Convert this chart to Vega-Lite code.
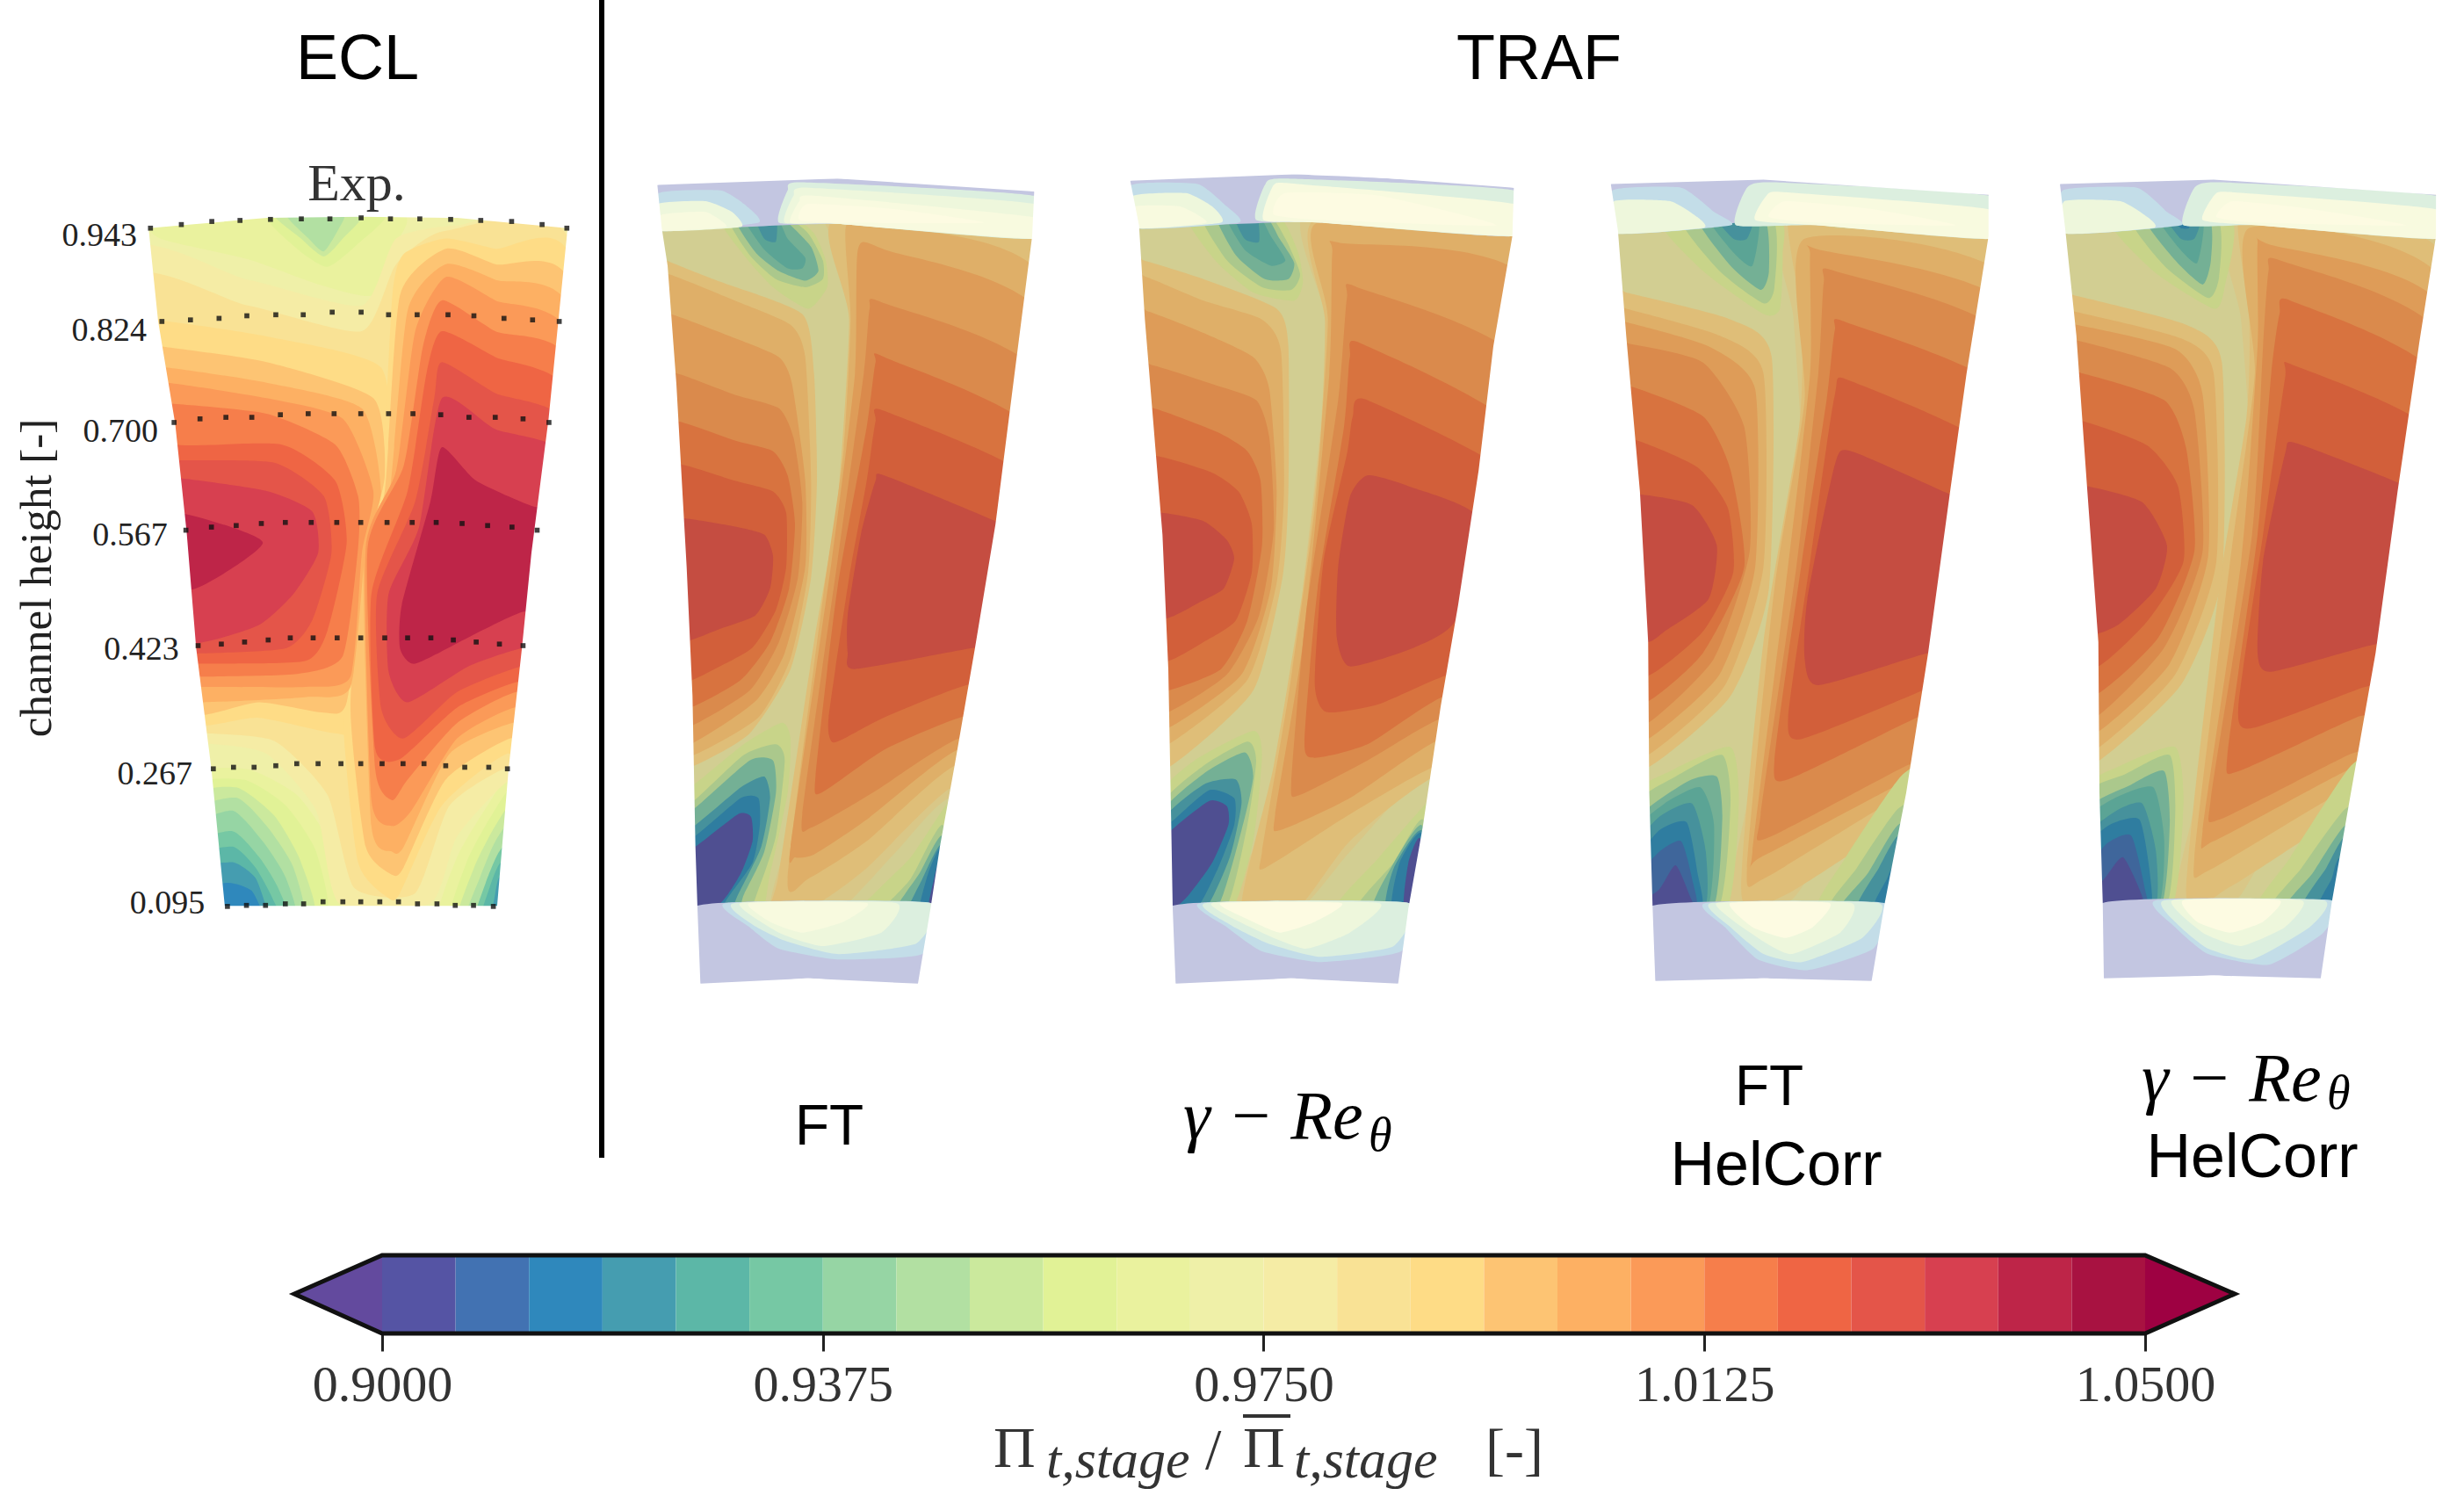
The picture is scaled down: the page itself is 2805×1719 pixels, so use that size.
{"$schema":"https://vega.github.io/schema/vega-lite/v6.json","width":2805,"height":1719,"padding":0,"autosize":{"type":"none"},"background":"white","config":{"view":{"stroke":null}},"resolve":{"scale":{"x":"independent","y":"independent","color":"independent"},"axis":{"x":"independent","y":"independent"}},
"datasets":{
"ecl":[
{"v":0.972,"x":300,"y":115},{"v":0.972,"x":1500,"y":115},{"v":0.972,"x":1520,"y":135},{"v":0.972,"x":1520,"y":1495},{"v":0.972,"x":1500,"y":1515},{"v":0.972,"x":300,"y":1515},{"v":0.972,"x":280,"y":1495},{"v":0.972,"x":280,"y":135},
{"v":0.966,"x":420,"y":150},{"v":0.966,"x":420,"y":190},{"v":0.966,"x":650,"y":230},{"v":0.966,"x":840,"y":280},{"v":0.966,"x":980,"y":300},{"v":0.966,"x":1040,"y":200},{"v":0.966,"x":1040,"y":140},
{"v":0.96,"x":700,"y":140},{"v":0.96,"x":780,"y":210},{"v":0.96,"x":860,"y":245},{"v":0.96,"x":940,"y":200},{"v":0.96,"x":1010,"y":140},
{"v":0.953,"x":720,"y":140},{"v":0.953,"x":790,"y":190},{"v":0.953,"x":850,"y":225},{"v":0.953,"x":900,"y":190},{"v":0.953,"x":950,"y":140},
{"v":0.946,"x":750,"y":140},{"v":0.946,"x":810,"y":190},{"v":0.946,"x":850,"y":215},{"v":0.946,"x":890,"y":170},{"v":0.946,"x":900,"y":140},
{"v":0.967,"x":500,"y":1240},{"v":0.967,"x":650,"y":1220},{"v":0.967,"x":780,"y":1270},{"v":0.967,"x":860,"y":1360},{"v":0.967,"x":880,"y":1520},{"v":0.967,"x":500,"y":1520},
{"v":0.961,"x":500,"y":1260},{"v":0.961,"x":640,"y":1240},{"v":0.961,"x":750,"y":1290},{"v":0.961,"x":830,"y":1380},{"v":0.961,"x":850,"y":1520},{"v":0.961,"x":500,"y":1520},
{"v":0.954,"x":500,"y":1280},{"v":0.954,"x":620,"y":1255},{"v":0.954,"x":720,"y":1310},{"v":0.954,"x":790,"y":1400},{"v":0.954,"x":820,"y":1520},{"v":0.954,"x":500,"y":1520},
{"v":0.947,"x":500,"y":1310},{"v":0.947,"x":620,"y":1275},{"v":0.947,"x":700,"y":1330},{"v":0.947,"x":770,"y":1410},{"v":0.947,"x":790,"y":1520},{"v":0.947,"x":500,"y":1520},
{"v":0.941,"x":500,"y":1340},{"v":0.941,"x":610,"y":1300},{"v":0.941,"x":690,"y":1360},{"v":0.941,"x":750,"y":1430},{"v":0.941,"x":770,"y":1520},{"v":0.941,"x":500,"y":1520},
{"v":0.934,"x":500,"y":1370},{"v":0.934,"x":610,"y":1340},{"v":0.934,"x":680,"y":1390},{"v":0.934,"x":730,"y":1450},{"v":0.934,"x":750,"y":1520},{"v":0.934,"x":500,"y":1520},
{"v":0.928,"x":500,"y":1395},{"v":0.928,"x":610,"y":1370},{"v":0.928,"x":670,"y":1410},{"v":0.928,"x":715,"y":1470},{"v":0.928,"x":730,"y":1520},{"v":0.928,"x":500,"y":1520},
{"v":0.922,"x":500,"y":1420},{"v":0.922,"x":610,"y":1400},{"v":0.922,"x":670,"y":1430},{"v":0.922,"x":700,"y":1490},{"v":0.922,"x":710,"y":1520},{"v":0.922,"x":500,"y":1520},
{"v":0.916,"x":500,"y":1455},{"v":0.916,"x":600,"y":1440},{"v":0.916,"x":660,"y":1455},{"v":0.916,"x":690,"y":1500},{"v":0.916,"x":690,"y":1520},{"v":0.916,"x":500,"y":1520},
{"v":0.968,"x":1350,"y":1230},{"v":0.968,"x":1280,"y":1290},{"v":0.968,"x":1200,"y":1390},{"v":0.968,"x":1150,"y":1520},{"v":0.968,"x":1350,"y":1520},
{"v":0.962,"x":1350,"y":1260},{"v":0.962,"x":1290,"y":1310},{"v":0.962,"x":1225,"y":1400},{"v":0.962,"x":1180,"y":1520},{"v":0.962,"x":1350,"y":1520},
{"v":0.955,"x":1350,"y":1290},{"v":0.955,"x":1300,"y":1330},{"v":0.955,"x":1245,"y":1410},{"v":0.955,"x":1200,"y":1520},{"v":0.955,"x":1350,"y":1520},
{"v":0.948,"x":1350,"y":1320},{"v":0.948,"x":1300,"y":1360},{"v":0.948,"x":1260,"y":1430},{"v":0.948,"x":1220,"y":1520},{"v":0.948,"x":1350,"y":1520},
{"v":0.935,"x":1350,"y":1360},{"v":0.935,"x":1310,"y":1380},{"v":0.935,"x":1275,"y":1440},{"v":0.935,"x":1245,"y":1520},{"v":0.935,"x":1350,"y":1520},
{"v":0.929,"x":1350,"y":1390},{"v":0.929,"x":1310,"y":1405},{"v":0.929,"x":1285,"y":1450},{"v":0.929,"x":1260,"y":1520},{"v":0.929,"x":1350,"y":1520},
{"v":0.923,"x":1350,"y":1430},{"v":0.923,"x":1310,"y":1430},{"v":0.923,"x":1295,"y":1480},{"v":0.923,"x":1275,"y":1520},{"v":0.923,"x":1350,"y":1520},
{"v":0.978,"x":300,"y":235},{"v":0.978,"x":650,"y":270},{"v":0.978,"x":950,"y":320},{"v":0.978,"x":1040,"y":190},{"v":0.978,"x":1200,"y":165},{"v":0.978,"x":1500,"y":180},{"v":0.978,"x":1500,"y":1230},{"v":0.978,"x":1340,"y":1240},{"v":0.978,"x":1200,"y":1350},{"v":0.978,"x":1130,"y":1480},{"v":0.978,"x":890,"y":1480},{"v":0.978,"x":830,"y":1300},{"v":0.978,"x":700,"y":1190},{"v":0.978,"x":540,"y":1170},{"v":0.978,"x":300,"y":1170},
{"v":0.984,"x":300,"y":285},{"v":0.984,"x":650,"y":320},{"v":0.984,"x":950,"y":370},{"v":0.984,"x":1040,"y":240},{"v":0.984,"x":1170,"y":175},{"v":0.984,"x":1500,"y":205},{"v":0.984,"x":1500,"y":1210},{"v":0.984,"x":1335,"y":1215},{"v":0.984,"x":1180,"y":1290},{"v":0.984,"x":1090,"y":1460},{"v":0.984,"x":930,"y":1450},{"v":0.984,"x":860,"y":1270},{"v":0.984,"x":720,"y":1165},{"v":0.984,"x":530,"y":1150},{"v":0.984,"x":300,"y":1150},
{"v":0.989,"x":300,"y":340},{"v":0.989,"x":430,"y":350},{"v":0.989,"x":700,"y":380},{"v":0.989,"x":1000,"y":440},{"v":0.989,"x":1020,"y":650},{"v":0.989,"x":960,"y":800},{"v":0.989,"x":930,"y":1130},{"v":0.989,"x":880,"y":1150},{"v":0.989,"x":680,"y":1120},{"v":0.989,"x":540,"y":1135},{"v":0.989,"x":300,"y":1130},
{"v":0.99,"x":1170,"y":190},{"v":0.99,"x":1300,"y":210},{"v":0.99,"x":1500,"y":240},{"v":0.99,"x":1500,"y":1190},{"v":0.99,"x":1330,"y":1190},{"v":0.99,"x":1160,"y":1290},{"v":0.99,"x":1050,"y":1460},{"v":0.99,"x":1020,"y":1470},{"v":0.99,"x":940,"y":1400},{"v":0.99,"x":900,"y":1100},{"v":0.99,"x":950,"y":780},{"v":0.99,"x":1000,"y":690},{"v":0.99,"x":1030,"y":300},{"v":0.99,"x":1060,"y":220},
{"v":0.995,"x":300,"y":390},{"v":0.995,"x":430,"y":400},{"v":0.995,"x":700,"y":430},{"v":0.995,"x":980,"y":500},{"v":0.995,"x":1010,"y":650},{"v":0.995,"x":965,"y":790},{"v":0.995,"x":910,"y":1090},{"v":0.995,"x":850,"y":1110},{"v":0.995,"x":680,"y":1090},{"v":0.995,"x":530,"y":1115},{"v":0.995,"x":300,"y":1110},
{"v":0.996,"x":1170,"y":210},{"v":0.996,"x":1300,"y":240},{"v":0.996,"x":1500,"y":290},{"v":0.996,"x":1500,"y":1160},{"v":0.996,"x":1340,"y":1160},{"v":0.996,"x":1170,"y":1240},{"v":0.996,"x":1060,"y":1410},{"v":0.996,"x":1030,"y":1425},{"v":0.996,"x":960,"y":1370},{"v":0.996,"x":920,"y":1100},{"v":0.996,"x":955,"y":800},{"v":0.996,"x":1010,"y":680},{"v":0.996,"x":1050,"y":300},
{"v":1.001,"x":300,"y":440},{"v":1.001,"x":435,"y":440},{"v":1.001,"x":700,"y":470},{"v":1.001,"x":950,"y":520},{"v":1.001,"x":1000,"y":680},{"v":1.001,"x":960,"y":790},{"v":1.001,"x":920,"y":1060},{"v":1.001,"x":800,"y":1080},{"v":1.001,"x":530,"y":1090},{"v":1.001,"x":300,"y":1090},
{"v":1.002,"x":1170,"y":240},{"v":1.002,"x":1300,"y":270},{"v":1.002,"x":1500,"y":340},{"v":1.002,"x":1500,"y":1130},{"v":1.002,"x":1345,"y":1130},{"v":1.002,"x":1180,"y":1190},{"v":1.002,"x":1060,"y":1370},{"v":1.002,"x":1030,"y":1380},{"v":1.002,"x":975,"y":1330},{"v":1.002,"x":955,"y":790},{"v":1.002,"x":1020,"y":700},{"v":1.002,"x":1070,"y":330},
{"v":1.007,"x":300,"y":470},{"v":1.007,"x":440,"y":470},{"v":1.007,"x":700,"y":500},{"v":1.007,"x":900,"y":540},{"v":1.007,"x":980,"y":680},{"v":1.007,"x":950,"y":800},{"v":1.007,"x":920,"y":1040},{"v":1.007,"x":800,"y":1060},{"v":1.007,"x":530,"y":1060},{"v":1.007,"x":300,"y":1060},
{"v":1.008,"x":1170,"y":265},{"v":1.008,"x":1300,"y":310},{"v":1.008,"x":1500,"y":390},{"v":1.008,"x":1500,"y":1100},{"v":1.008,"x":1350,"y":1100},{"v":1.008,"x":1200,"y":1160},{"v":1.008,"x":1080,"y":1300},{"v":1.008,"x":1030,"y":1330},{"v":1.008,"x":975,"y":1280},{"v":1.008,"x":960,"y":790},{"v":1.008,"x":1040,"y":640},{"v":1.008,"x":1090,"y":370},
{"v":1.014,"x":300,"y":510},{"v":1.014,"x":440,"y":510},{"v":1.014,"x":700,"y":530},{"v":1.014,"x":880,"y":590},{"v":1.014,"x":940,"y":690},{"v":1.014,"x":940,"y":790},{"v":1.014,"x":900,"y":1000},{"v":1.014,"x":780,"y":1035},{"v":1.014,"x":525,"y":1040},{"v":1.014,"x":300,"y":1040},
{"v":1.015,"x":1160,"y":310},{"v":1.015,"x":1300,"y":370},{"v":1.015,"x":1500,"y":440},{"v":1.015,"x":1500,"y":1080},{"v":1.015,"x":1355,"y":1070},{"v":1.015,"x":1200,"y":1130},{"v":1.015,"x":1070,"y":1240},{"v":1.015,"x":1030,"y":1280},{"v":1.015,"x":985,"y":1220},{"v":1.015,"x":965,"y":790},{"v":1.015,"x":1060,"y":630},{"v":1.015,"x":1110,"y":400},
{"v":1.02,"x":300,"y":540},{"v":1.02,"x":460,"y":590},{"v":1.02,"x":740,"y":590},{"v":1.02,"x":880,"y":660},{"v":1.02,"x":910,"y":780},{"v":1.02,"x":860,"y":950},{"v":1.02,"x":800,"y":1010},{"v":1.02,"x":520,"y":1015},{"v":1.02,"x":300,"y":1015},
{"v":1.021,"x":1160,"y":370},{"v":1.021,"x":1300,"y":420},{"v":1.021,"x":1500,"y":500},{"v":1.021,"x":1500,"y":1050},{"v":1.021,"x":1360,"y":1050},{"v":1.021,"x":1200,"y":1100},{"v":1.021,"x":1050,"y":1200},{"v":1.021,"x":985,"y":1180},{"v":1.021,"x":975,"y":880},{"v":1.021,"x":1070,"y":680},{"v":1.021,"x":1120,"y":450},
{"v":1.026,"x":300,"y":610},{"v":1.026,"x":465,"y":620},{"v":1.026,"x":720,"y":625},{"v":1.026,"x":850,"y":690},{"v":1.026,"x":870,"y":800},{"v":1.026,"x":820,"y":930},{"v":1.026,"x":750,"y":985},{"v":1.026,"x":520,"y":995},{"v":1.026,"x":300,"y":995},
{"v":1.027,"x":1160,"y":430},{"v":1.027,"x":1300,"y":490},{"v":1.027,"x":1500,"y":560},{"v":1.027,"x":1500,"y":1020},{"v":1.027,"x":1370,"y":1020},{"v":1.027,"x":1200,"y":1070},{"v":1.027,"x":1060,"y":1160},{"v":1.027,"x":1000,"y":1100},{"v":1.027,"x":990,"y":880},{"v":1.027,"x":1090,"y":700},{"v":1.027,"x":1140,"y":500},
{"v":1.032,"x":300,"y":650},{"v":1.032,"x":470,"y":655},{"v":1.032,"x":700,"y":680},{"v":1.032,"x":820,"y":720},{"v":1.032,"x":835,"y":800},{"v":1.032,"x":770,"y":880},{"v":1.032,"x":680,"y":940},{"v":1.032,"x":520,"y":975},{"v":1.032,"x":300,"y":975},
{"v":1.033,"x":1160,"y":500},{"v":1.033,"x":1300,"y":560},{"v":1.033,"x":1500,"y":620},{"v":1.033,"x":1500,"y":980},{"v":1.033,"x":1370,"y":985},{"v":1.033,"x":1230,"y":1020},{"v":1.033,"x":1070,"y":1090},{"v":1.033,"x":1020,"y":1030},{"v":1.033,"x":1020,"y":880},{"v":1.033,"x":1100,"y":750},
{"v":1.039,"x":300,"y":720},{"v":1.039,"x":490,"y":725},{"v":1.039,"x":690,"y":780},{"v":1.039,"x":510,"y":870},{"v":1.039,"x":300,"y":870},
{"v":1.04,"x":1160,"y":595},{"v":1.04,"x":1250,"y":660},{"v":1.04,"x":1400,"y":710},{"v":1.04,"x":1500,"y":720},{"v":1.04,"x":1500,"y":900},{"v":1.04,"x":1370,"y":915},{"v":1.04,"x":1240,"y":960},{"v":1.04,"x":1090,"y":1015},{"v":1.04,"x":1050,"y":985},{"v":1.04,"x":1055,"y":900},{"v":1.04,"x":1130,"y":700}
],
"eclMask":[{"x":100,"y":-150},{"x":1565,"y":-150},{"x":1565,"y":1700},{"x":100,"y":1700},{"x":100,"y":-150},{"x":390,"y":170},{"x":415,"y":350},{"x":460,"y":550},{"x":490,"y":760},{"x":515,"y":985},{"x":555,"y":1220},{"x":590,"y":1485},{"x":1305,"y":1485},{"x":1335,"y":1220},{"x":1370,"y":985},{"x":1395,"y":800},{"x":1440,"y":540},{"x":1490,"y":170},{"x":1200,"y":150},{"x":950,"y":148},{"x":700,"y":150},{"x":390,"y":170},{"x":100,"y":-150}],
"eclDots":[{"x":395,"y":170},{"x":476,"y":163},{"x":556,"y":157},{"x":630,"y":155},{"x":710,"y":153},{"x":791,"y":152},{"x":866,"y":152},{"x":948,"y":150},{"x":1025,"y":152},{"x":1102,"y":152},{"x":1183,"y":153},{"x":1262,"y":155},{"x":1343,"y":157},{"x":1423,"y":163},{"x":1488,"y":170},
{"x":425,"y":351},{"x":500,"y":348},{"x":575,"y":345},{"x":648,"y":340},{"x":724,"y":338},{"x":796,"y":338},{"x":872,"y":333},{"x":948,"y":333},{"x":1020,"y":338},{"x":1095,"y":338},{"x":1176,"y":338},{"x":1244,"y":340},{"x":1323,"y":345},{"x":1398,"y":348},{"x":1468,"y":351},
{"x":457,"y":547},{"x":525,"y":540},{"x":593,"y":537},{"x":661,"y":537},{"x":736,"y":532},{"x":809,"y":530},{"x":877,"y":530},{"x":947,"y":530},{"x":1020,"y":530},{"x":1084,"y":530},{"x":1157,"y":532},{"x":1231,"y":537},{"x":1300,"y":537},{"x":1373,"y":540},{"x":1441,"y":547},
{"x":488,"y":756},{"x":555,"y":750},{"x":620,"y":747},{"x":686,"y":743},{"x":749,"y":741},{"x":817,"y":741},{"x":884,"y":741},{"x":947,"y":741},{"x":1016,"y":741},{"x":1082,"y":741},{"x":1145,"y":741},{"x":1213,"y":743},{"x":1280,"y":747},{"x":1344,"y":750},{"x":1410,"y":756},
{"x":520,"y":980},{"x":581,"y":977},{"x":642,"y":973},{"x":704,"y":969},{"x":762,"y":965},{"x":822,"y":965},{"x":885,"y":965},{"x":947,"y":965},{"x":1010,"y":965},{"x":1070,"y":965},{"x":1131,"y":965},{"x":1190,"y":969},{"x":1250,"y":973},{"x":1311,"y":977},{"x":1373,"y":980},
{"x":560,"y":1219},{"x":613,"y":1216},{"x":667,"y":1216},{"x":724,"y":1213},{"x":779,"y":1209},{"x":835,"y":1209},{"x":895,"y":1209},{"x":947,"y":1209},{"x":1003,"y":1209},{"x":1058,"y":1209},{"x":1113,"y":1209},{"x":1170,"y":1213},{"x":1220,"y":1216},{"x":1283,"y":1216},{"x":1332,"y":1219},
{"x":597,"y":1486},{"x":647,"y":1484},{"x":697,"y":1484},{"x":749,"y":1481},{"x":797,"y":1481},{"x":848,"y":1477},{"x":900,"y":1477},{"x":947,"y":1477},{"x":997,"y":1477},{"x":1046,"y":1477},{"x":1096,"y":1481},{"x":1147,"y":1481},{"x":1195,"y":1484},{"x":1243,"y":1484},{"x":1295,"y":1486}],
"eclTicks":[{"t":"0.943","x":360,"y":205},{"t":"0.824","x":385,"y":388},{"t":"0.700","x":415,"y":585},{"t":"0.567","x":440,"y":785},{"t":"0.423","x":470,"y":1007},{"t":"0.267","x":505,"y":1250},{"t":"0.095","x":538,"y":1500}],
"ft":[
{"v":0.98,"x":70,"y":80},{"v":0.98,"x":1400,"y":80},{"v":0.98,"x":1420,"y":100},{"v":0.98,"x":1420,"y":1400},{"v":0.98,"x":1400,"y":1420},{"v":0.98,"x":70,"y":1420},{"v":0.98,"x":50,"y":1400},{"v":0.98,"x":50,"y":100},
{"v":0.99,"x":680,"y":100},{"v":0.99,"x":1420,"y":130},{"v":0.99,"x":1420,"y":1150},{"v":0.99,"x":1080,"y":1190},{"v":0.99,"x":900,"y":1290},{"v":0.99,"x":700,"y":1400},{"v":0.99,"x":470,"y":1410},{"v":0.99,"x":520,"y":1280},{"v":0.99,"x":580,"y":1100},{"v":0.99,"x":640,"y":900},{"v":0.99,"x":700,"y":700},{"v":0.99,"x":740,"y":500},{"v":0.99,"x":745,"y":300},{"v":0.99,"x":715,"y":180},
{"v":0.996,"x":690,"y":115},{"v":0.996,"x":1420,"y":170},{"v":0.996,"x":1420,"y":1130},{"v":0.996,"x":1090,"y":1170},{"v":0.996,"x":800,"y":1320},{"v":0.996,"x":620,"y":1390},{"v":0.996,"x":470,"y":1400},{"v":0.996,"x":500,"y":1330},{"v":0.996,"x":620,"y":900},{"v":0.996,"x":700,"y":640},{"v":0.996,"x":740,"y":300},
{"v":0.997,"x":30,"y":165},{"v":0.997,"x":115,"y":190},{"v":0.997,"x":300,"y":230},{"v":0.997,"x":580,"y":290},{"v":0.997,"x":620,"y":400},{"v":0.997,"x":630,"y":600},{"v":0.997,"x":610,"y":780},{"v":0.997,"x":540,"y":950},{"v":0.997,"x":400,"y":1070},{"v":0.997,"x":210,"y":1130},{"v":0.997,"x":30,"y":1150},
{"v":1.003,"x":730,"y":125},{"v":1.003,"x":870,"y":125},{"v":1.003,"x":1420,"y":240},{"v":1.003,"x":1420,"y":1110},{"v":1.003,"x":1100,"y":1130},{"v":1.003,"x":800,"y":1270},{"v":1.003,"x":600,"y":1340},{"v":1.003,"x":530,"y":1340},{"v":1.003,"x":650,"y":820},{"v":1.003,"x":720,"y":550},{"v":1.003,"x":745,"y":300},
{"v":1.004,"x":30,"y":215},{"v":1.004,"x":120,"y":215},{"v":1.004,"x":350,"y":265},{"v":1.004,"x":540,"y":310},{"v":1.004,"x":590,"y":370},{"v":1.004,"x":610,"y":600},{"v":1.004,"x":600,"y":770},{"v":1.004,"x":540,"y":930},{"v":1.004,"x":430,"y":1040},{"v":1.004,"x":210,"y":1110},{"v":1.004,"x":30,"y":1130},
{"v":1.009,"x":770,"y":170},{"v":1.009,"x":860,"y":170},{"v":1.009,"x":1420,"y":310},{"v":1.009,"x":1420,"y":1080},{"v":1.009,"x":1110,"y":1100},{"v":1.009,"x":800,"y":1230},{"v":1.009,"x":620,"y":1295},{"v":1.009,"x":555,"y":1300},{"v":1.009,"x":540,"y":1280},{"v":1.009,"x":680,"y":750},{"v":1.009,"x":760,"y":400},
{"v":1.01,"x":30,"y":290},{"v":1.01,"x":130,"y":290},{"v":1.01,"x":350,"y":335},{"v":1.01,"x":500,"y":370},{"v":1.01,"x":545,"y":420},{"v":1.01,"x":590,"y":600},{"v":1.01,"x":590,"y":760},{"v":1.01,"x":520,"y":920},{"v":1.01,"x":420,"y":1010},{"v":1.01,"x":215,"y":1085},{"v":1.01,"x":30,"y":1110},
{"v":1.016,"x":810,"y":280},{"v":1.016,"x":850,"y":268},{"v":1.016,"x":1420,"y":420},{"v":1.016,"x":1420,"y":1050},{"v":1.016,"x":1110,"y":1080},{"v":1.016,"x":820,"y":1180},{"v":1.016,"x":610,"y":1245},{"v":1.016,"x":580,"y":1220},{"v":1.016,"x":700,"y":750},{"v":1.016,"x":790,"y":400},
{"v":1.017,"x":30,"y":400},{"v":1.017,"x":150,"y":400},{"v":1.017,"x":350,"y":440},{"v":1.017,"x":500,"y":465},{"v":1.017,"x":550,"y":520},{"v":1.017,"x":580,"y":640},{"v":1.017,"x":565,"y":780},{"v":1.017,"x":500,"y":900},{"v":1.017,"x":400,"y":990},{"v":1.017,"x":205,"y":1055},{"v":1.017,"x":30,"y":1080},
{"v":1.022,"x":830,"y":380},{"v":1.022,"x":860,"y":370},{"v":1.022,"x":1420,"y":530},{"v":1.022,"x":1420,"y":1010},{"v":1.022,"x":1120,"y":1040},{"v":1.022,"x":860,"y":1100},{"v":1.022,"x":645,"y":1180},{"v":1.022,"x":625,"y":1150},{"v":1.022,"x":700,"y":800},{"v":1.022,"x":800,"y":500},
{"v":1.023,"x":30,"y":490},{"v":1.023,"x":160,"y":490},{"v":1.023,"x":350,"y":525},{"v":1.023,"x":480,"y":545},{"v":1.023,"x":530,"y":590},{"v":1.023,"x":555,"y":680},{"v":1.023,"x":535,"y":800},{"v":1.023,"x":470,"y":900},{"v":1.023,"x":370,"y":970},{"v":1.023,"x":205,"y":1020},{"v":1.023,"x":30,"y":1040},
{"v":1.028,"x":830,"y":490},{"v":1.028,"x":860,"y":470},{"v":1.028,"x":1420,"y":620},{"v":1.028,"x":1420,"y":960},{"v":1.028,"x":1140,"y":980},{"v":1.028,"x":860,"y":1040},{"v":1.028,"x":720,"y":1080},{"v":1.028,"x":680,"y":1085},{"v":1.028,"x":670,"y":1040},{"v":1.028,"x":740,"y":780},{"v":1.028,"x":800,"y":600},
{"v":1.029,"x":30,"y":570},{"v":1.029,"x":170,"y":570},{"v":1.029,"x":350,"y":600},{"v":1.029,"x":480,"y":620},{"v":1.029,"x":525,"y":660},{"v":1.029,"x":525,"y":760},{"v":1.029,"x":490,"y":840},{"v":1.029,"x":410,"y":910},{"v":1.029,"x":280,"y":950},{"v":1.029,"x":205,"y":970},{"v":1.029,"x":30,"y":1000},
{"v":1.034,"x":830,"y":600},{"v":1.034,"x":860,"y":590},{"v":1.034,"x":1240,"y":675},{"v":1.034,"x":1400,"y":720},{"v":1.034,"x":1400,"y":900},{"v":1.034,"x":1170,"y":910},{"v":1.034,"x":760,"y":950},{"v":1.034,"x":735,"y":920},{"v":1.034,"x":735,"y":850},{"v":1.034,"x":780,"y":700},
{"v":1.035,"x":30,"y":670},{"v":1.035,"x":180,"y":670},{"v":1.035,"x":350,"y":685},{"v":1.035,"x":450,"y":700},{"v":1.035,"x":480,"y":740},{"v":1.035,"x":470,"y":800},{"v":1.035,"x":420,"y":850},{"v":1.035,"x":300,"y":875},{"v":1.035,"x":205,"y":895},{"v":1.035,"x":30,"y":920},
{"v":0.959,"x":300,"y":110},{"v":0.959,"x":380,"y":180},{"v":0.959,"x":480,"y":240},{"v":0.959,"x":600,"y":280},{"v":0.959,"x":665,"y":240},{"v":0.959,"x":660,"y":190},{"v":0.959,"x":620,"y":140},{"v":0.959,"x":540,"y":110},
{"v":0.947,"x":330,"y":110},{"v":0.947,"x":400,"y":180},{"v":0.947,"x":490,"y":225},{"v":0.947,"x":590,"y":240},{"v":0.947,"x":650,"y":225},{"v":0.947,"x":650,"y":190},{"v":0.947,"x":600,"y":140},{"v":0.947,"x":520,"y":110},
{"v":0.934,"x":350,"y":110},{"v":0.934,"x":420,"y":175},{"v":0.934,"x":500,"y":210},{"v":0.934,"x":590,"y":228},{"v":0.934,"x":635,"y":210},{"v":0.934,"x":610,"y":165},{"v":0.934,"x":540,"y":125},{"v":0.934,"x":500,"y":110},
{"v":0.927,"x":380,"y":110},{"v":0.927,"x":450,"y":170},{"v":0.927,"x":530,"y":205},{"v":0.927,"x":580,"y":205},{"v":0.927,"x":590,"y":185},{"v":0.927,"x":530,"y":150},{"v":0.927,"x":490,"y":110},
{"v":0.921,"x":420,"y":110},{"v":0.921,"x":450,"y":150},{"v":0.921,"x":490,"y":155},{"v":0.921,"x":490,"y":110},
{"v":0.96,"x":100,"y":1200},{"v":0.96,"x":210,"y":1165},{"v":0.96,"x":380,"y":1090},{"v":0.96,"x":510,"y":1050},{"v":0.96,"x":540,"y":1080},{"v":0.96,"x":530,"y":1180},{"v":0.96,"x":470,"y":1330},{"v":0.96,"x":420,"y":1420},{"v":0.96,"x":100,"y":1420},
{"v":0.948,"x":100,"y":1230},{"v":0.948,"x":210,"y":1195},{"v":0.948,"x":380,"y":1110},{"v":0.948,"x":490,"y":1090},{"v":0.948,"x":520,"y":1120},{"v":0.948,"x":490,"y":1260},{"v":0.948,"x":430,"y":1360},{"v":0.948,"x":370,"y":1420},{"v":0.948,"x":100,"y":1420},
{"v":0.935,"x":100,"y":1245},{"v":0.935,"x":210,"y":1210},{"v":0.935,"x":400,"y":1120},{"v":0.935,"x":480,"y":1120},{"v":0.935,"x":490,"y":1180},{"v":0.935,"x":450,"y":1290},{"v":0.935,"x":380,"y":1370},{"v":0.935,"x":340,"y":1420},{"v":0.935,"x":100,"y":1420},
{"v":0.922,"x":100,"y":1270},{"v":0.922,"x":215,"y":1240},{"v":0.922,"x":370,"y":1170},{"v":0.922,"x":450,"y":1150},{"v":0.922,"x":470,"y":1190},{"v":0.922,"x":440,"y":1280},{"v":0.922,"x":360,"y":1370},{"v":0.922,"x":310,"y":1420},{"v":0.922,"x":100,"y":1420},
{"v":0.915,"x":100,"y":1290},{"v":0.915,"x":215,"y":1260},{"v":0.915,"x":370,"y":1190},{"v":0.915,"x":430,"y":1190},{"v":0.915,"x":435,"y":1240},{"v":0.915,"x":410,"y":1310},{"v":0.915,"x":320,"y":1380},{"v":0.915,"x":290,"y":1420},{"v":0.915,"x":100,"y":1420},
{"v":0.903,"x":100,"y":1310},{"v":0.903,"x":215,"y":1280},{"v":0.903,"x":360,"y":1220},{"v":0.903,"x":405,"y":1225},{"v":0.903,"x":410,"y":1270},{"v":0.903,"x":370,"y":1330},{"v":0.903,"x":290,"y":1390},{"v":0.903,"x":100,"y":1420},
{"v":0.961,"x":750,"y":1420},{"v":0.961,"x":950,"y":1300},{"v":0.961,"x":1075,"y":1200},{"v":0.961,"x":1120,"y":1200},{"v":0.961,"x":1100,"y":1420},
{"v":0.949,"x":830,"y":1420},{"v":0.949,"x":950,"y":1340},{"v":0.949,"x":1060,"y":1240},{"v":0.949,"x":1100,"y":1420},
{"v":0.936,"x":880,"y":1420},{"v":0.936,"x":980,"y":1330},{"v":0.936,"x":1060,"y":1260},{"v":0.936,"x":1100,"y":1420},
{"v":0.923,"x":930,"y":1420},{"v":0.923,"x":990,"y":1340},{"v":0.923,"x":1060,"y":1275},{"v":0.923,"x":1100,"y":1420},
{"v":0.916,"x":975,"y":1420},{"v":0.916,"x":1010,"y":1330},{"v":0.916,"x":1060,"y":1280},{"v":0.916,"x":1100,"y":1420},
{"v":0.904,"x":1005,"y":1420},{"v":0.904,"x":1030,"y":1340},{"v":0.904,"x":1060,"y":1290},{"v":0.904,"x":1100,"y":1420}
],
"ftCap":[
{"v":0.895,"x":85,"y":50},{"v":0.895,"x":700,"y":38},{"v":0.895,"x":1370,"y":62},{"v":0.895,"x":1365,"y":145},{"v":0.895,"x":700,"y":122},{"v":0.895,"x":100,"y":130},
{"v":0.911,"x":90,"y":65},{"v":0.911,"x":300,"y":60},{"v":0.911,"x":380,"y":85},{"v":0.911,"x":430,"y":120},{"v":0.911,"x":95,"y":135},
{"v":0.951,"x":90,"y":85},{"v":0.951,"x":250,"y":80},{"v":0.951,"x":340,"y":100},{"v":0.951,"x":370,"y":128},{"v":0.951,"x":95,"y":135},
{"v":0.966,"x":100,"y":105},{"v":0.966,"x":250,"y":100},{"v":0.966,"x":320,"y":128},{"v":0.966,"x":100,"y":135},
{"v":0.931,"x":500,"y":120},{"v":0.931,"x":530,"y":60},{"v":0.931,"x":580,"y":45},{"v":0.931,"x":1370,"y":70},{"v":0.931,"x":1372,"y":150},{"v":0.931,"x":700,"y":122},
{"v":0.952,"x":520,"y":120},{"v":0.952,"x":550,"y":70},{"v":0.952,"x":600,"y":55},{"v":0.952,"x":1370,"y":85},{"v":0.952,"x":1372,"y":150},{"v":0.952,"x":700,"y":122},
{"v":0.967,"x":540,"y":120},{"v":0.967,"x":570,"y":80},{"v":0.967,"x":620,"y":70},{"v":0.967,"x":1370,"y":110},{"v":0.967,"x":1372,"y":150},{"v":0.967,"x":700,"y":122},
{"v":0.981,"x":570,"y":115},{"v":0.981,"x":600,"y":85},{"v":0.981,"x":900,"y":95},{"v":0.981,"x":1200,"y":120},{"v":0.981,"x":700,"y":120},
{"v":0.896,"x":222,"y":1390},{"v":0.896,"x":1018,"y":1390},{"v":0.896,"x":975,"y":1535},{"v":0.896,"x":600,"y":1525},{"v":0.896,"x":232,"y":1535},
{"v":0.912,"x":320,"y":1385},{"v":0.912,"x":1018,"y":1385},{"v":0.912,"x":990,"y":1480},{"v":0.912,"x":700,"y":1490},{"v":0.912,"x":500,"y":1470},{"v":0.912,"x":400,"y":1430},
{"v":0.932,"x":350,"y":1385},{"v":0.932,"x":1018,"y":1385},{"v":0.932,"x":970,"y":1460},{"v":0.932,"x":700,"y":1480},{"v":0.932,"x":520,"y":1455},{"v":0.932,"x":410,"y":1425},
{"v":0.953,"x":370,"y":1385},{"v":0.953,"x":900,"y":1385},{"v":0.953,"x":850,"y":1440},{"v":0.953,"x":650,"y":1465},{"v":0.953,"x":500,"y":1440},
{"v":0.968,"x":400,"y":1385},{"v":0.968,"x":800,"y":1385},{"v":0.968,"x":720,"y":1420},{"v":0.968,"x":580,"y":1440},{"v":0.968,"x":470,"y":1420}
],
"ftMask":[{"x":0,"y":0},{"x":1500,"y":0},{"x":1500,"y":1568},{"x":0,"y":1568},{"x":0,"y":0},{"x":85,"y":50},{"x":100,"y":130},{"x":120,"y":200},{"x":150,"y":420},{"x":185,"y":760},{"x":205,"y":1000},{"x":215,"y":1280},{"x":222,"y":1395},{"x":232,"y":1535},{"x":600,"y":1525},{"x":975,"y":1535},{"x":1018,"y":1395},{"x":1050,"y":1280},{"x":1100,"y":1130},{"x":1170,"y":910},{"x":1240,"y":680},{"x":1305,"y":400},{"x":1365,"y":145},{"x":1372,"y":62},{"x":700,"y":38},{"x":85,"y":50},{"x":0,"y":0}],
"gr":[
{"v":0.98,"x":35,"y":70},{"v":0.98,"x":1400,"y":70},{"v":0.98,"x":1420,"y":90},{"v":0.98,"x":1420,"y":1400},{"v":0.98,"x":1400,"y":1420},{"v":0.98,"x":35,"y":1420},{"v":0.98,"x":15,"y":1400},{"v":0.98,"x":15,"y":90},
{"v":0.99,"x":650,"y":100},{"v":0.99,"x":1420,"y":130},{"v":0.99,"x":1420,"y":1150},{"v":0.99,"x":1090,"y":1130},{"v":0.99,"x":800,"y":1290},{"v":0.99,"x":620,"y":1400},{"v":0.99,"x":380,"y":1400},{"v":0.99,"x":500,"y":1250},{"v":0.99,"x":590,"y":1050},{"v":0.99,"x":640,"y":800},{"v":0.99,"x":700,"y":500},{"v":0.99,"x":720,"y":300},
{"v":0.996,"x":680,"y":115},{"v":0.996,"x":1420,"y":140},{"v":0.996,"x":1420,"y":1120},{"v":0.996,"x":1090,"y":1150},{"v":0.996,"x":800,"y":1270},{"v":0.996,"x":620,"y":1395},{"v":0.996,"x":430,"y":1395},{"v":0.996,"x":540,"y":1130},{"v":0.996,"x":640,"y":800},{"v":0.996,"x":700,"y":520},{"v":0.996,"x":715,"y":300},
{"v":0.997,"x":20,"y":180},{"v":0.997,"x":95,"y":190},{"v":0.997,"x":300,"y":225},{"v":0.997,"x":550,"y":280},{"v":0.997,"x":590,"y":350},{"v":0.997,"x":590,"y":620},{"v":0.997,"x":570,"y":780},{"v":0.997,"x":470,"y":990},{"v":0.997,"x":190,"y":1130},{"v":0.997,"x":20,"y":1140},
{"v":1.003,"x":690,"y":120},{"v":1.003,"x":1420,"y":175},{"v":1.003,"x":1420,"y":1090},{"v":1.003,"x":1095,"y":1130},{"v":1.003,"x":800,"y":1220},{"v":1.003,"x":510,"y":1320},{"v":1.003,"x":500,"y":1290},{"v":1.003,"x":590,"y":1000},{"v":1.003,"x":680,"y":650},{"v":1.003,"x":725,"y":300},
{"v":1.004,"x":20,"y":220},{"v":1.004,"x":100,"y":220},{"v":1.004,"x":300,"y":265},{"v":1.004,"x":500,"y":300},{"v":1.004,"x":565,"y":360},{"v":1.004,"x":575,"y":620},{"v":1.004,"x":550,"y":790},{"v":1.004,"x":450,"y":970},{"v":1.004,"x":180,"y":1090},{"v":1.004,"x":20,"y":1100},
{"v":1.009,"x":740,"y":175},{"v":1.009,"x":770,"y":158},{"v":1.009,"x":1420,"y":240},{"v":1.009,"x":1420,"y":1060},{"v":1.009,"x":1110,"y":1080},{"v":1.009,"x":800,"y":1190},{"v":1.009,"x":560,"y":1250},{"v":1.009,"x":545,"y":1220},{"v":1.009,"x":640,"y":900},{"v":1.009,"x":730,"y":400},
{"v":1.01,"x":20,"y":285},{"v":1.01,"x":110,"y":285},{"v":1.01,"x":300,"y":325},{"v":1.01,"x":470,"y":370},{"v":1.01,"x":525,"y":430},{"v":1.01,"x":550,"y":620},{"v":1.01,"x":530,"y":800},{"v":1.01,"x":430,"y":960},{"v":1.01,"x":180,"y":1060},{"v":1.01,"x":20,"y":1070},
{"v":1.016,"x":790,"y":260},{"v":1.016,"x":825,"y":240},{"v":1.016,"x":1420,"y":400},{"v":1.016,"x":1420,"y":1020},{"v":1.016,"x":1120,"y":1040},{"v":1.016,"x":860,"y":1120},{"v":1.016,"x":625,"y":1185},{"v":1.016,"x":600,"y":1160},{"v":1.016,"x":650,"y":850},{"v":1.016,"x":760,"y":450},
{"v":1.017,"x":20,"y":385},{"v":1.017,"x":125,"y":385},{"v":1.017,"x":330,"y":420},{"v":1.017,"x":480,"y":450},{"v":1.017,"x":525,"y":520},{"v":1.017,"x":540,"y":690},{"v":1.017,"x":490,"y":850},{"v":1.017,"x":380,"y":960},{"v":1.017,"x":180,"y":1030},{"v":1.017,"x":20,"y":1040},
{"v":1.022,"x":800,"y":370},{"v":1.022,"x":840,"y":345},{"v":1.022,"x":1420,"y":530},{"v":1.022,"x":1420,"y":990},{"v":1.022,"x":1125,"y":1000},{"v":1.022,"x":860,"y":1090},{"v":1.022,"x":680,"y":1115},{"v":1.022,"x":645,"y":1085},{"v":1.022,"x":690,"y":800},{"v":1.022,"x":780,"y":500},
{"v":1.023,"x":20,"y":465},{"v":1.023,"x":130,"y":465},{"v":1.023,"x":350,"y":510},{"v":1.023,"x":450,"y":545},{"v":1.023,"x":495,"y":600},{"v":1.023,"x":500,"y":720},{"v":1.023,"x":450,"y":860},{"v":1.023,"x":360,"y":950},{"v":1.023,"x":180,"y":990},{"v":1.023,"x":20,"y":1000},
{"v":1.028,"x":810,"y":480},{"v":1.028,"x":860,"y":450},{"v":1.028,"x":1420,"y":620},{"v":1.028,"x":1420,"y":940},{"v":1.028,"x":1140,"y":960},{"v":1.028,"x":900,"y":1015},{"v":1.028,"x":720,"y":1030},{"v":1.028,"x":680,"y":975},{"v":1.028,"x":710,"y":750},{"v":1.028,"x":790,"y":550},
{"v":1.029,"x":20,"y":560},{"v":1.029,"x":150,"y":555},{"v":1.029,"x":330,"y":585},{"v":1.029,"x":420,"y":620},{"v":1.029,"x":465,"y":680},{"v":1.029,"x":465,"y":770},{"v":1.029,"x":410,"y":860},{"v":1.029,"x":300,"y":900},{"v":1.029,"x":180,"y":935},{"v":1.029,"x":20,"y":940},
{"v":1.034,"x":800,"y":630},{"v":1.034,"x":860,"y":590},{"v":1.034,"x":1000,"y":610},{"v":1.034,"x":1240,"y":670},{"v":1.034,"x":1160,"y":860},{"v":1.034,"x":1020,"y":910},{"v":1.034,"x":800,"y":945},{"v":1.034,"x":755,"y":890},{"v":1.034,"x":760,"y":760},
{"v":1.035,"x":20,"y":660},{"v":1.035,"x":165,"y":660},{"v":1.035,"x":300,"y":675},{"v":1.035,"x":380,"y":710},{"v":1.035,"x":405,"y":745},{"v":1.035,"x":370,"y":800},{"v":1.035,"x":290,"y":825},{"v":1.035,"x":180,"y":855},{"v":1.035,"x":20,"y":860},
{"v":0.959,"x":240,"y":100},{"v":0.959,"x":340,"y":190},{"v":0.959,"x":470,"y":250},{"v":0.959,"x":610,"y":265},{"v":0.959,"x":640,"y":230},{"v":0.959,"x":620,"y":170},{"v":0.959,"x":540,"y":100},
{"v":0.947,"x":290,"y":100},{"v":0.947,"x":380,"y":190},{"v":0.947,"x":500,"y":240},{"v":0.947,"x":600,"y":245},{"v":0.947,"x":630,"y":215},{"v":0.947,"x":580,"y":150},{"v":0.947,"x":510,"y":100},
{"v":0.934,"x":340,"y":100},{"v":0.934,"x":410,"y":180},{"v":0.934,"x":510,"y":225},{"v":0.934,"x":590,"y":225},{"v":0.934,"x":610,"y":195},{"v":0.934,"x":560,"y":150},{"v":0.934,"x":500,"y":100},
{"v":0.928,"x":370,"y":100},{"v":0.928,"x":440,"y":170},{"v":0.928,"x":530,"y":200},{"v":0.928,"x":580,"y":190},{"v":0.928,"x":530,"y":145},{"v":0.928,"x":480,"y":100},
{"v":0.922,"x":400,"y":100},{"v":0.922,"x":440,"y":150},{"v":0.922,"x":490,"y":155},{"v":0.922,"x":480,"y":100},
{"v":0.96,"x":150,"y":1190},{"v":0.96,"x":270,"y":1120},{"v":0.96,"x":470,"y":1065},{"v":0.96,"x":500,"y":1110},{"v":0.96,"x":470,"y":1270},{"v":0.96,"x":390,"y":1400},{"v":0.96,"x":150,"y":1400},
{"v":0.948,"x":150,"y":1210},{"v":0.948,"x":300,"y":1130},{"v":0.948,"x":450,"y":1085},{"v":0.948,"x":480,"y":1120},{"v":0.948,"x":450,"y":1240},{"v":0.948,"x":370,"y":1400},{"v":0.948,"x":150,"y":1400},
{"v":0.935,"x":150,"y":1225},{"v":0.935,"x":300,"y":1145},{"v":0.935,"x":440,"y":1105},{"v":0.935,"x":470,"y":1150},{"v":0.935,"x":430,"y":1250},{"v":0.935,"x":340,"y":1400},{"v":0.935,"x":150,"y":1400},
{"v":0.923,"x":150,"y":1240},{"v":0.923,"x":300,"y":1165},{"v":0.923,"x":410,"y":1155},{"v":0.923,"x":430,"y":1200},{"v":0.923,"x":390,"y":1300},{"v":0.923,"x":300,"y":1400},{"v":0.923,"x":150,"y":1400},
{"v":0.915,"x":150,"y":1260},{"v":0.915,"x":200,"y":1230},{"v":0.915,"x":320,"y":1175},{"v":0.915,"x":405,"y":1190},{"v":0.915,"x":405,"y":1240},{"v":0.915,"x":350,"y":1320},{"v":0.915,"x":270,"y":1400},{"v":0.915,"x":150,"y":1400},
{"v":0.903,"x":150,"y":1280},{"v":0.903,"x":200,"y":1245},{"v":0.903,"x":320,"y":1195},{"v":0.903,"x":380,"y":1205},{"v":0.903,"x":385,"y":1240},{"v":0.903,"x":330,"y":1310},{"v":0.903,"x":250,"y":1370},{"v":0.903,"x":190,"y":1400},{"v":0.903,"x":150,"y":1400},
{"v":0.961,"x":750,"y":1400},{"v":0.961,"x":900,"y":1300},{"v":0.961,"x":1060,"y":1200},{"v":0.961,"x":1100,"y":1190},{"v":0.961,"x":1100,"y":1400},
{"v":0.949,"x":820,"y":1400},{"v":0.949,"x":950,"y":1310},{"v":0.949,"x":1050,"y":1230},{"v":0.949,"x":1100,"y":1400},
{"v":0.936,"x":880,"y":1400},{"v":0.936,"x":930,"y":1330},{"v":0.936,"x":1045,"y":1240},{"v":0.936,"x":1100,"y":1400},
{"v":0.924,"x":925,"y":1400},{"v":0.924,"x":950,"y":1320},{"v":0.924,"x":1045,"y":1250},{"v":0.924,"x":1100,"y":1400},
{"v":0.916,"x":945,"y":1400},{"v":0.916,"x":970,"y":1310},{"v":0.916,"x":1045,"y":1255},{"v":0.916,"x":1100,"y":1400},
{"v":0.904,"x":985,"y":1400},{"v":0.904,"x":1000,"y":1310},{"v":0.904,"x":1040,"y":1265},{"v":0.904,"x":1080,"y":1400}
],
"grCap":[
{"v":0.895,"x":50,"y":42},{"v":0.895,"x":500,"y":28},{"v":0.895,"x":1360,"y":55},{"v":0.895,"x":1355,"y":145},{"v":0.895,"x":700,"y":118},{"v":0.895,"x":80,"y":125},
{"v":0.911,"x":55,"y":50},{"v":0.911,"x":280,"y":48},{"v":0.911,"x":380,"y":90},{"v":0.911,"x":420,"y":120},{"v":0.911,"x":60,"y":130},
{"v":0.951,"x":60,"y":70},{"v":0.951,"x":240,"y":65},{"v":0.951,"x":330,"y":90},{"v":0.951,"x":360,"y":120},{"v":0.951,"x":65,"y":130},
{"v":0.966,"x":65,"y":90},{"v":0.966,"x":220,"y":90},{"v":0.966,"x":310,"y":120},{"v":0.966,"x":70,"y":130},
{"v":0.931,"x":480,"y":115},{"v":0.931,"x":510,"y":50},{"v":0.931,"x":580,"y":38},{"v":0.931,"x":1360,"y":60},{"v":0.931,"x":1365,"y":145},{"v":0.931,"x":700,"y":120},
{"v":0.967,"x":505,"y":115},{"v":0.967,"x":540,"y":50},{"v":0.967,"x":620,"y":48},{"v":0.967,"x":1360,"y":85},{"v":0.967,"x":1365,"y":145},{"v":0.967,"x":700,"y":120},
{"v":0.981,"x":540,"y":105},{"v":0.981,"x":580,"y":65},{"v":0.981,"x":900,"y":70},{"v":0.981,"x":1300,"y":125},{"v":0.981,"x":700,"y":115},
{"v":0.896,"x":195,"y":1390},{"v":0.896,"x":1000,"y":1390},{"v":0.896,"x":965,"y":1535},{"v":0.896,"x":600,"y":1525},{"v":0.896,"x":205,"y":1535},
{"v":0.912,"x":290,"y":1385},{"v":0.912,"x":1000,"y":1385},{"v":0.912,"x":975,"y":1475},{"v":0.912,"x":700,"y":1495},{"v":0.912,"x":500,"y":1475},{"v":0.912,"x":380,"y":1430},
{"v":0.932,"x":310,"y":1385},{"v":0.932,"x":1000,"y":1385},{"v":0.932,"x":950,"y":1465},{"v":0.932,"x":700,"y":1485},{"v":0.932,"x":520,"y":1460},{"v":0.932,"x":390,"y":1425},
{"v":0.952,"x":330,"y":1385},{"v":0.952,"x":900,"y":1385},{"v":0.952,"x":800,"y":1440},{"v":0.952,"x":650,"y":1470},{"v":0.952,"x":500,"y":1440},
{"v":0.982,"x":360,"y":1385},{"v":0.982,"x":770,"y":1385},{"v":0.982,"x":680,"y":1420},{"v":0.982,"x":560,"y":1440},{"v":0.982,"x":450,"y":1415}
],
"grMask":[{"x":-60,"y":0},{"x":1500,"y":0},{"x":1500,"y":1568},{"x":-60,"y":1568},{"x":-60,"y":0},{"x":50,"y":42},{"x":80,"y":125},{"x":100,"y":300},{"x":130,"y":500},{"x":160,"y":700},{"x":180,"y":950},{"x":190,"y":1240},{"x":195,"y":1395},{"x":205,"y":1535},{"x":600,"y":1525},{"x":965,"y":1535},{"x":1000,"y":1395},{"x":1050,"y":1240},{"x":1110,"y":1020},{"x":1170,"y":830},{"x":1240,"y":580},{"x":1290,"y":350},{"x":1355,"y":145},{"x":1360,"y":55},{"x":700,"y":28},{"x":50,"y":42},{"x":-60,"y":0}],
"p3":[
{"v":0.98,"x":25,"y":60},{"v":0.98,"x":750,"y":60},{"v":0.98,"x":770,"y":80},{"v":0.98,"x":770,"y":1400},{"v":0.98,"x":750,"y":1420},{"v":0.98,"x":25,"y":1420},{"v":0.98,"x":5,"y":1400},{"v":0.98,"x":5,"y":80},
{"v":0.99,"x":340,"y":110},{"v":0.99,"x":770,"y":130},{"v":0.99,"x":770,"y":1100},{"v":0.99,"x":560,"y":1140},{"v":0.99,"x":430,"y":1260},{"v":0.99,"x":350,"y":1380},{"v":0.99,"x":240,"y":1385},{"v":0.99,"x":270,"y":1200},{"v":0.99,"x":320,"y":900},{"v":0.99,"x":370,"y":600},{"v":0.99,"x":355,"y":300},
{"v":0.996,"x":345,"y":115},{"v":0.996,"x":430,"y":130},{"v":0.996,"x":770,"y":200},{"v":0.996,"x":770,"y":1150},{"v":0.996,"x":530,"y":1250},{"v":0.996,"x":340,"y":1370},{"v":0.996,"x":260,"y":1370},{"v":0.996,"x":300,"y":900},{"v":0.996,"x":365,"y":500},{"v":0.996,"x":370,"y":300},
{"v":0.997,"x":10,"y":240},{"v":0.997,"x":50,"y":250},{"v":0.997,"x":240,"y":300},{"v":0.997,"x":315,"y":370},{"v":0.997,"x":310,"y":800},{"v":0.997,"x":240,"y":1000},{"v":0.997,"x":95,"y":1130},{"v":0.997,"x":10,"y":1130},
{"v":1.003,"x":375,"y":150},{"v":1.003,"x":770,"y":250},{"v":1.003,"x":770,"y":1090},{"v":1.003,"x":545,"y":1190},{"v":1.003,"x":300,"y":1340},{"v":1.003,"x":270,"y":1320},{"v":1.003,"x":320,"y":800},{"v":1.003,"x":375,"y":450},
{"v":1.004,"x":10,"y":275},{"v":1.004,"x":50,"y":280},{"v":1.004,"x":220,"y":330},{"v":1.004,"x":300,"y":400},{"v":1.004,"x":300,"y":760},{"v":1.004,"x":230,"y":980},{"v":1.004,"x":90,"y":1110},{"v":1.004,"x":10,"y":1110},
{"v":1.009,"x":385,"y":180},{"v":1.009,"x":400,"y":170},{"v":1.009,"x":770,"y":300},{"v":1.009,"x":770,"y":1060},{"v":1.009,"x":555,"y":1160},{"v":1.009,"x":295,"y":1300},{"v":1.009,"x":280,"y":1290},{"v":1.009,"x":340,"y":800},{"v":1.009,"x":385,"y":400},
{"v":1.01,"x":10,"y":300},{"v":1.01,"x":50,"y":305},{"v":1.01,"x":200,"y":350},{"v":1.01,"x":285,"y":430},{"v":1.01,"x":285,"y":760},{"v":1.01,"x":220,"y":960},{"v":1.01,"x":90,"y":1080},{"v":1.01,"x":10,"y":1080},
{"v":1.016,"x":410,"y":230},{"v":1.016,"x":430,"y":210},{"v":1.016,"x":770,"y":360},{"v":1.016,"x":770,"y":1030},{"v":1.016,"x":560,"y":1130},{"v":1.016,"x":305,"y":1265},{"v":1.016,"x":295,"y":1220},{"v":1.016,"x":360,"y":760},{"v":1.016,"x":400,"y":400},
{"v":1.017,"x":10,"y":345},{"v":1.017,"x":55,"y":345},{"v":1.017,"x":190,"y":380},{"v":1.017,"x":265,"y":500},{"v":1.017,"x":275,"y":730},{"v":1.017,"x":210,"y":930},{"v":1.017,"x":90,"y":1050},{"v":1.017,"x":10,"y":1050},
{"v":1.022,"x":430,"y":320},{"v":1.022,"x":450,"y":305},{"v":1.022,"x":770,"y":460},{"v":1.022,"x":770,"y":960},{"v":1.022,"x":580,"y":1040},{"v":1.022,"x":345,"y":1155},{"v":1.022,"x":320,"y":1120},{"v":1.022,"x":370,"y":750},{"v":1.022,"x":415,"y":450},
{"v":1.023,"x":10,"y":425},{"v":1.023,"x":60,"y":425},{"v":1.023,"x":190,"y":480},{"v":1.023,"x":240,"y":580},{"v":1.023,"x":265,"y":760},{"v":1.023,"x":190,"y":920},{"v":1.023,"x":90,"y":1010},{"v":1.023,"x":10,"y":1010},
{"v":1.028,"x":430,"y":440},{"v":1.028,"x":460,"y":415},{"v":1.028,"x":770,"y":575},{"v":1.028,"x":770,"y":910},{"v":1.028,"x":590,"y":990},{"v":1.028,"x":370,"y":1080},{"v":1.028,"x":345,"y":1040},{"v":1.028,"x":385,"y":750},
{"v":1.029,"x":10,"y":525},{"v":1.029,"x":70,"y":525},{"v":1.029,"x":180,"y":575},{"v":1.029,"x":235,"y":650},{"v":1.029,"x":245,"y":770},{"v":1.029,"x":190,"y":880},{"v":1.029,"x":95,"y":960},{"v":1.029,"x":10,"y":965},
{"v":1.034,"x":430,"y":570},{"v":1.034,"x":460,"y":545},{"v":1.034,"x":640,"y":625},{"v":1.034,"x":770,"y":680},{"v":1.034,"x":770,"y":880},{"v":1.034,"x":600,"y":920},{"v":1.034,"x":400,"y":980},{"v":1.034,"x":375,"y":930},{"v":1.034,"x":380,"y":820},
{"v":1.035,"x":10,"y":625},{"v":1.035,"x":75,"y":625},{"v":1.035,"x":170,"y":645},{"v":1.035,"x":215,"y":720},{"v":1.035,"x":200,"y":820},{"v":1.035,"x":120,"y":880},{"v":1.035,"x":90,"y":900},{"v":1.035,"x":10,"y":900},
{"v":0.959,"x":110,"y":110},{"v":0.959,"x":190,"y":210},{"v":0.959,"x":300,"y":290},{"v":0.959,"x":330,"y":280},{"v":0.959,"x":335,"y":180},{"v":0.959,"x":325,"y":110},
{"v":0.947,"x":150,"y":110},{"v":0.947,"x":220,"y":210},{"v":0.947,"x":300,"y":270},{"v":0.947,"x":320,"y":240},{"v":0.947,"x":315,"y":110},
{"v":0.934,"x":180,"y":110},{"v":0.934,"x":240,"y":200},{"v":0.934,"x":295,"y":245},{"v":0.934,"x":310,"y":210},{"v":0.934,"x":300,"y":110},
{"v":0.927,"x":200,"y":110},{"v":0.927,"x":245,"y":175},{"v":0.927,"x":280,"y":200},{"v":0.927,"x":290,"y":110},
{"v":0.921,"x":215,"y":110},{"v":0.921,"x":245,"y":150},{"v":0.921,"x":270,"y":150},{"v":0.921,"x":280,"y":110},
{"v":0.96,"x":60,"y":1190},{"v":0.96,"x":130,"y":1140},{"v":0.96,"x":240,"y":1095},{"v":0.96,"x":255,"y":1200},{"v":0.96,"x":230,"y":1400},{"v":0.96,"x":60,"y":1400},
{"v":0.948,"x":60,"y":1210},{"v":0.948,"x":140,"y":1150},{"v":0.948,"x":225,"y":1110},{"v":0.948,"x":240,"y":1200},{"v":0.948,"x":215,"y":1400},{"v":0.948,"x":60,"y":1400},
{"v":0.935,"x":60,"y":1240},{"v":0.935,"x":160,"y":1160},{"v":0.935,"x":215,"y":1150},{"v":0.935,"x":225,"y":1230},{"v":0.935,"x":205,"y":1400},{"v":0.935,"x":60,"y":1400},
{"v":0.928,"x":60,"y":1260},{"v":0.928,"x":120,"y":1200},{"v":0.928,"x":185,"y":1170},{"v":0.928,"x":210,"y":1240},{"v":0.928,"x":195,"y":1400},{"v":0.928,"x":60,"y":1400},
{"v":0.922,"x":60,"y":1290},{"v":0.922,"x":110,"y":1225},{"v":0.922,"x":170,"y":1200},{"v":0.922,"x":195,"y":1290},{"v":0.922,"x":190,"y":1400},{"v":0.922,"x":60,"y":1400},
{"v":0.915,"x":60,"y":1320},{"v":0.915,"x":110,"y":1250},{"v":0.915,"x":160,"y":1235},{"v":0.915,"x":180,"y":1330},{"v":0.915,"x":185,"y":1400},{"v":0.915,"x":60,"y":1400},
{"v":0.909,"x":60,"y":1350},{"v":0.909,"x":110,"y":1290},{"v":0.909,"x":150,"y":1270},{"v":0.909,"x":170,"y":1340},{"v":0.909,"x":175,"y":1400},{"v":0.909,"x":60,"y":1400},
{"v":0.903,"x":60,"y":1400},{"v":0.903,"x":110,"y":1360},{"v":0.903,"x":140,"y":1315},{"v":0.903,"x":165,"y":1370},{"v":0.903,"x":170,"y":1400},
{"v":0.961,"x":400,"y":1400},{"v":0.961,"x":450,"y":1300},{"v":0.961,"x":550,"y":1150},{"v":0.961,"x":600,"y":1140},{"v":0.961,"x":600,"y":1400},
{"v":0.949,"x":420,"y":1400},{"v":0.949,"x":470,"y":1320},{"v":0.949,"x":545,"y":1210},{"v":0.949,"x":600,"y":1200},{"v":0.949,"x":600,"y":1400},
{"v":0.936,"x":440,"y":1400},{"v":0.936,"x":490,"y":1330},{"v":0.936,"x":545,"y":1240},{"v":0.936,"x":600,"y":1240},{"v":0.936,"x":600,"y":1400},
{"v":0.923,"x":470,"y":1400},{"v":0.923,"x":510,"y":1320},{"v":0.923,"x":545,"y":1260},{"v":0.923,"x":600,"y":1260},{"v":0.923,"x":600,"y":1400},
{"v":0.916,"x":500,"y":1400},{"v":0.916,"x":525,"y":1340},{"v":0.916,"x":545,"y":1300},{"v":0.916,"x":600,"y":1290},{"v":0.916,"x":600,"y":1400}
],
"p3Cap":[
{"v":0.895,"x":22,"y":48},{"v":0.895,"x":300,"y":38},{"v":0.895,"x":710,"y":68},{"v":0.895,"x":710,"y":145},{"v":0.895,"x":300,"y":118},{"v":0.895,"x":35,"y":135},
{"v":0.911,"x":25,"y":60},{"v":0.911,"x":150,"y":55},{"v":0.911,"x":210,"y":100},{"v":0.911,"x":240,"y":125},{"v":0.911,"x":30,"y":140},
{"v":0.951,"x":28,"y":80},{"v":0.951,"x":130,"y":80},{"v":0.951,"x":180,"y":110},{"v":0.951,"x":190,"y":130},{"v":0.951,"x":30,"y":140},
{"v":0.931,"x":250,"y":125},{"v":0.931,"x":270,"y":55},{"v":0.931,"x":320,"y":45},{"v":0.931,"x":710,"y":70},{"v":0.931,"x":715,"y":150},{"v":0.931,"x":400,"y":125},
{"v":0.966,"x":285,"y":115},{"v":0.966,"x":310,"y":65},{"v":0.966,"x":360,"y":65},{"v":0.966,"x":710,"y":95},{"v":0.966,"x":715,"y":150},{"v":0.966,"x":400,"y":125},
{"v":0.981,"x":310,"y":110},{"v":0.981,"x":340,"y":80},{"v":0.981,"x":500,"y":95},{"v":0.981,"x":650,"y":125},{"v":0.981,"x":400,"y":120},
{"v":0.896,"x":98,"y":1390},{"v":0.896,"x":520,"y":1390},{"v":0.896,"x":497,"y":1530},{"v":0.896,"x":300,"y":1525},{"v":0.896,"x":103,"y":1530},
{"v":0.912,"x":195,"y":1385},{"v":0.912,"x":520,"y":1385},{"v":0.912,"x":500,"y":1470},{"v":0.912,"x":380,"y":1510},{"v":0.912,"x":290,"y":1490},{"v":0.912,"x":230,"y":1430},
{"v":0.932,"x":205,"y":1385},{"v":0.932,"x":510,"y":1385},{"v":0.932,"x":480,"y":1450},{"v":0.932,"x":370,"y":1495},{"v":0.932,"x":300,"y":1480},{"v":0.932,"x":240,"y":1430},
{"v":0.952,"x":215,"y":1385},{"v":0.952,"x":460,"y":1385},{"v":0.952,"x":440,"y":1440},{"v":0.952,"x":350,"y":1480},{"v":0.952,"x":290,"y":1450},
{"v":0.982,"x":240,"y":1385},{"v":0.982,"x":420,"y":1385},{"v":0.982,"x":390,"y":1430},{"v":0.982,"x":340,"y":1450},{"v":0.982,"x":280,"y":1430}
],
"p3Mask":[{"x":-60,"y":0},{"x":790,"y":0},{"x":790,"y":1568},{"x":-60,"y":1568},{"x":-60,"y":0},{"x":22,"y":48},{"x":35,"y":135},{"x":50,"y":330},{"x":75,"y":620},{"x":90,"y":900},{"x":92,"y":1180},{"x":98,"y":1390},{"x":103,"y":1530},{"x":300,"y":1525},{"x":497,"y":1530},{"x":520,"y":1390},{"x":560,"y":1180},{"x":600,"y":920},{"x":640,"y":620},{"x":670,"y":400},{"x":710,"y":145},{"x":710,"y":68},{"x":300,"y":40},{"x":22,"y":48},{"x":-60,"y":0}],
"p4":[
{"v":0.98,"x":830,"y":60},{"v":0.98,"x":1535,"y":60},{"v":0.98,"x":1555,"y":80},{"v":0.98,"x":1555,"y":1400},{"v":0.98,"x":1535,"y":1420},{"v":0.98,"x":830,"y":1420},{"v":0.98,"x":810,"y":1400},{"v":0.98,"x":810,"y":80},
{"v":0.99,"x":1150,"y":110},{"v":0.99,"x":1545,"y":130},{"v":0.99,"x":1545,"y":1100},{"v":0.99,"x":1370,"y":1160},{"v":0.99,"x":1230,"y":1270},{"v":0.99,"x":1160,"y":1380},{"v":0.99,"x":1050,"y":1385},{"v":0.99,"x":1090,"y":1180},{"v":0.99,"x":1140,"y":800},{"v":0.99,"x":1185,"y":550},{"v":0.99,"x":1170,"y":300},
{"v":0.996,"x":1165,"y":115},{"v":0.996,"x":1250,"y":130},{"v":0.996,"x":1545,"y":195},{"v":0.996,"x":1545,"y":1150},{"v":0.996,"x":1345,"y":1230},{"v":0.996,"x":1150,"y":1355},{"v":0.996,"x":1070,"y":1370},{"v":0.996,"x":1130,"y":800},{"v":0.996,"x":1180,"y":480},{"v":0.996,"x":1185,"y":300},
{"v":0.997,"x":820,"y":245},{"v":0.997,"x":865,"y":255},{"v":0.997,"x":1070,"y":310},{"v":0.997,"x":1135,"y":380},{"v":0.997,"x":1135,"y":780},{"v":0.997,"x":1060,"y":980},{"v":0.997,"x":905,"y":1125},{"v":0.997,"x":820,"y":1125},
{"v":1.003,"x":1185,"y":130},{"v":1.003,"x":1545,"y":240},{"v":1.003,"x":1545,"y":1090},{"v":1.003,"x":1350,"y":1180},{"v":1.003,"x":1110,"y":1325},{"v":1.003,"x":1085,"y":1300},{"v":1.003,"x":1150,"y":750},{"v":1.003,"x":1195,"y":400},
{"v":1.004,"x":820,"y":280},{"v":1.004,"x":865,"y":285},{"v":1.004,"x":1060,"y":335},{"v":1.004,"x":1120,"y":400},{"v":1.004,"x":1125,"y":750},{"v":1.004,"x":1050,"y":960},{"v":1.004,"x":905,"y":1100},{"v":1.004,"x":820,"y":1100},
{"v":1.009,"x":1200,"y":160},{"v":1.009,"x":1220,"y":160},{"v":1.009,"x":1545,"y":290},{"v":1.009,"x":1545,"y":1060},{"v":1.009,"x":1360,"y":1140},{"v":1.009,"x":1120,"y":1270},{"v":1.009,"x":1100,"y":1250},{"v":1.009,"x":1170,"y":750},{"v":1.009,"x":1200,"y":350},
{"v":1.01,"x":820,"y":310},{"v":1.01,"x":870,"y":310},{"v":1.01,"x":1050,"y":355},{"v":1.01,"x":1100,"y":440},{"v":1.01,"x":1110,"y":740},{"v":1.01,"x":1040,"y":940},{"v":1.01,"x":905,"y":1070},{"v":1.01,"x":820,"y":1070},
{"v":1.016,"x":1220,"y":210},{"v":1.016,"x":1240,"y":190},{"v":1.016,"x":1545,"y":345},{"v":1.016,"x":1545,"y":1030},{"v":1.016,"x":1365,"y":1110},{"v":1.016,"x":1130,"y":1230},{"v":1.016,"x":1115,"y":1190},{"v":1.016,"x":1190,"y":700},{"v":1.016,"x":1210,"y":350},
{"v":1.017,"x":820,"y":340},{"v":1.017,"x":875,"y":340},{"v":1.017,"x":1040,"y":390},{"v":1.017,"x":1085,"y":470},{"v":1.017,"x":1100,"y":730},{"v":1.017,"x":1030,"y":910},{"v":1.017,"x":905,"y":1040},{"v":1.017,"x":820,"y":1040},
{"v":1.022,"x":1240,"y":290},{"v":1.022,"x":1260,"y":265},{"v":1.022,"x":1545,"y":425},{"v":1.022,"x":1545,"y":980},{"v":1.022,"x":1380,"y":1040},{"v":1.022,"x":1165,"y":1140},{"v":1.022,"x":1145,"y":1110},{"v":1.022,"x":1200,"y":700},{"v":1.022,"x":1225,"y":400},
{"v":1.023,"x":820,"y":400},{"v":1.023,"x":880,"y":400},{"v":1.023,"x":1030,"y":450},{"v":1.023,"x":1070,"y":540},{"v":1.023,"x":1085,"y":730},{"v":1.023,"x":1020,"y":890},{"v":1.023,"x":910,"y":995},{"v":1.023,"x":820,"y":995},
{"v":1.028,"x":1250,"y":410},{"v":1.028,"x":1265,"y":385},{"v":1.028,"x":1545,"y":530},{"v":1.028,"x":1545,"y":930},{"v":1.028,"x":1390,"y":985},{"v":1.028,"x":1190,"y":1060},{"v":1.028,"x":1165,"y":1020},{"v":1.028,"x":1210,"y":700},
{"v":1.029,"x":820,"y":490},{"v":1.029,"x":885,"y":490},{"v":1.029,"x":1000,"y":535},{"v":1.029,"x":1055,"y":610},{"v":1.029,"x":1065,"y":750},{"v":1.029,"x":1000,"y":860},{"v":1.029,"x":910,"y":945},{"v":1.029,"x":820,"y":945},
{"v":1.034,"x":1250,"y":550},{"v":1.034,"x":1270,"y":530},{"v":1.034,"x":1460,"y":605},{"v":1.034,"x":1545,"y":650},{"v":1.034,"x":1545,"y":880},{"v":1.034,"x":1410,"y":905},{"v":1.034,"x":1225,"y":955},{"v":1.034,"x":1200,"y":920},{"v":1.034,"x":1210,"y":750},
{"v":1.035,"x":820,"y":605},{"v":1.035,"x":890,"y":610},{"v":1.035,"x":990,"y":640},{"v":1.035,"x":1035,"y":720},{"v":1.035,"x":1015,"y":800},{"v":1.035,"x":950,"y":865},{"v":1.035,"x":905,"y":885},{"v":1.035,"x":820,"y":885},
{"v":0.959,"x":930,"y":110},{"v":0.959,"x":1010,"y":210},{"v":0.959,"x":1120,"y":280},{"v":0.959,"x":1140,"y":240},{"v":0.959,"x":1150,"y":110},
{"v":0.947,"x":970,"y":110},{"v":0.947,"x":1030,"y":200},{"v":0.947,"x":1110,"y":260},{"v":0.947,"x":1130,"y":220},{"v":0.947,"x":1125,"y":110},
{"v":0.934,"x":995,"y":110},{"v":0.934,"x":1050,"y":190},{"v":0.934,"x":1100,"y":235},{"v":0.934,"x":1115,"y":190},{"v":0.934,"x":1110,"y":110},
{"v":0.927,"x":1020,"y":110},{"v":0.927,"x":1055,"y":165},{"v":0.927,"x":1090,"y":195},{"v":0.927,"x":1100,"y":110},
{"v":0.921,"x":1035,"y":110},{"v":0.921,"x":1060,"y":150},{"v":0.921,"x":1085,"y":150},{"v":0.921,"x":1095,"y":110},
{"v":0.914,"x":1045,"y":110},{"v":0.914,"x":1060,"y":130},{"v":0.914,"x":1075,"y":130},{"v":0.914,"x":1080,"y":110},
{"v":0.96,"x":880,"y":1180},{"v":0.96,"x":950,"y":1130},{"v":0.96,"x":1050,"y":1095},{"v":0.96,"x":1065,"y":1200},{"v":0.96,"x":1040,"y":1400},{"v":0.96,"x":880,"y":1400},
{"v":0.948,"x":880,"y":1190},{"v":0.948,"x":960,"y":1145},{"v":0.948,"x":1040,"y":1110},{"v":0.948,"x":1050,"y":1220},{"v":0.948,"x":1030,"y":1400},{"v":0.948,"x":880,"y":1400},
{"v":0.935,"x":880,"y":1220},{"v":0.935,"x":970,"y":1165},{"v":0.935,"x":1030,"y":1140},{"v":0.935,"x":1040,"y":1240},{"v":0.935,"x":1020,"y":1400},{"v":0.935,"x":880,"y":1400},
{"v":0.928,"x":880,"y":1240},{"v":0.928,"x":940,"y":1190},{"v":0.928,"x":1010,"y":1170},{"v":0.928,"x":1030,"y":1270},{"v":0.928,"x":1015,"y":1400},{"v":0.928,"x":880,"y":1400},
{"v":0.922,"x":880,"y":1270},{"v":0.922,"x":940,"y":1215},{"v":0.922,"x":990,"y":1200},{"v":0.922,"x":1015,"y":1290},{"v":0.922,"x":1010,"y":1400},{"v":0.922,"x":880,"y":1400},
{"v":0.915,"x":880,"y":1290},{"v":0.915,"x":930,"y":1240},{"v":0.915,"x":985,"y":1230},{"v":0.915,"x":1005,"y":1340},{"v":0.915,"x":1000,"y":1400},{"v":0.915,"x":880,"y":1400},
{"v":0.909,"x":880,"y":1340},{"v":0.909,"x":925,"y":1275},{"v":0.909,"x":970,"y":1260},{"v":0.909,"x":995,"y":1360},{"v":0.909,"x":995,"y":1400},{"v":0.909,"x":880,"y":1400},
{"v":0.903,"x":880,"y":1400},{"v":0.903,"x":925,"y":1335},{"v":0.903,"x":955,"y":1300},{"v":0.903,"x":985,"y":1360},{"v":0.903,"x":990,"y":1400},
{"v":0.961,"x":1200,"y":1400},{"v":0.961,"x":1260,"y":1300},{"v":0.961,"x":1370,"y":1130},{"v":0.961,"x":1420,"y":1130},{"v":0.961,"x":1420,"y":1400},
{"v":0.949,"x":1225,"y":1400},{"v":0.949,"x":1280,"y":1320},{"v":0.949,"x":1360,"y":1210},{"v":0.949,"x":1420,"y":1200},{"v":0.949,"x":1420,"y":1400},
{"v":0.936,"x":1250,"y":1400},{"v":0.936,"x":1300,"y":1330},{"v":0.936,"x":1360,"y":1240},{"v":0.936,"x":1420,"y":1240},{"v":0.936,"x":1420,"y":1400},
{"v":0.923,"x":1280,"y":1400},{"v":0.923,"x":1325,"y":1320},{"v":0.923,"x":1360,"y":1260},{"v":0.923,"x":1420,"y":1260},{"v":0.923,"x":1420,"y":1400},
{"v":0.916,"x":1310,"y":1400},{"v":0.916,"x":1335,"y":1340},{"v":0.916,"x":1350,"y":1300},{"v":0.916,"x":1420,"y":1290},{"v":0.916,"x":1420,"y":1400}
],
"p4Cap":[
{"v":0.895,"x":840,"y":48},{"v":0.895,"x":1120,"y":38},{"v":0.895,"x":1525,"y":68},{"v":0.895,"x":1525,"y":145},{"v":0.895,"x":1120,"y":118},{"v":0.895,"x":850,"y":135},
{"v":0.911,"x":845,"y":60},{"v":0.911,"x":980,"y":55},{"v":0.911,"x":1035,"y":100},{"v":0.911,"x":1060,"y":125},{"v":0.911,"x":850,"y":140},
{"v":0.951,"x":848,"y":80},{"v":0.951,"x":950,"y":80},{"v":0.951,"x":1000,"y":110},{"v":0.951,"x":1010,"y":130},{"v":0.951,"x":850,"y":140},
{"v":0.931,"x":1065,"y":125},{"v":0.931,"x":1085,"y":55},{"v":0.931,"x":1135,"y":45},{"v":0.931,"x":1525,"y":70},{"v":0.931,"x":1530,"y":150},{"v":0.931,"x":1200,"y":125},
{"v":0.966,"x":1100,"y":115},{"v":0.966,"x":1125,"y":65},{"v":0.966,"x":1175,"y":65},{"v":0.966,"x":1525,"y":95},{"v":0.966,"x":1530,"y":150},{"v":0.966,"x":1200,"y":125},
{"v":0.981,"x":1125,"y":110},{"v":0.981,"x":1155,"y":80},{"v":0.981,"x":1300,"y":95},{"v":0.981,"x":1470,"y":125},{"v":0.981,"x":1200,"y":120},
{"v":0.896,"x":918,"y":1385},{"v":0.896,"x":1335,"y":1385},{"v":0.896,"x":1315,"y":1525},{"v":0.896,"x":1120,"y":1520},{"v":0.896,"x":920,"y":1525},
{"v":0.912,"x":1015,"y":1380},{"v":0.912,"x":1335,"y":1380},{"v":0.912,"x":1320,"y":1440},{"v":0.912,"x":1220,"y":1500},{"v":0.912,"x":1110,"y":1480},{"v":0.912,"x":1050,"y":1430},
{"v":0.932,"x":1030,"y":1380},{"v":0.932,"x":1320,"y":1380},{"v":0.932,"x":1295,"y":1430},{"v":0.932,"x":1190,"y":1490},{"v":0.932,"x":1110,"y":1470},{"v":0.932,"x":1060,"y":1430},
{"v":0.952,"x":1045,"y":1380},{"v":0.952,"x":1280,"y":1380},{"v":0.952,"x":1250,"y":1430},{"v":0.952,"x":1170,"y":1465},{"v":0.952,"x":1100,"y":1440},
{"v":0.982,"x":1065,"y":1380},{"v":0.982,"x":1240,"y":1380},{"v":0.982,"x":1210,"y":1420},{"v":0.982,"x":1150,"y":1440},{"v":0.982,"x":1090,"y":1420}
],
"p4Mask":[{"x":780,"y":0},{"x":1640,"y":0},{"x":1640,"y":1568},{"x":780,"y":1568},{"x":780,"y":0},{"x":840,"y":48},{"x":850,"y":135},{"x":870,"y":330},{"x":890,"y":620},{"x":910,"y":900},{"x":912,"y":1180},{"x":918,"y":1385},{"x":920,"y":1525},{"x":1120,"y":1520},{"x":1315,"y":1525},{"x":1335,"y":1385},{"x":1370,"y":1180},{"x":1415,"y":920},{"x":1455,"y":620},{"x":1495,"y":340},{"x":1525,"y":145},{"x":1525,"y":68},{"x":1120,"y":40},{"x":840,"y":48},{"x":780,"y":0}],
"bar":[{"a":0.9,"b":0.90625,"v":0.903},{"a":0.90625,"b":0.9125,"v":0.909},{"a":0.9125,"b":0.91875,"v":0.916},{"a":0.91875,"b":0.925,"v":0.922},{"a":0.925,"b":0.93125,"v":0.928},{"a":0.93125,"b":0.9375,"v":0.934},{"a":0.9375,"b":0.94375,"v":0.941},{"a":0.94375,"b":0.95,"v":0.947},{"a":0.95,"b":0.95625,"v":0.953},{"a":0.95625,"b":0.9625,"v":0.959},{"a":0.9625,"b":0.96875,"v":0.966},{"a":0.96875,"b":0.975,"v":0.972},{"a":0.975,"b":0.98125,"v":0.978},{"a":0.98125,"b":0.9875,"v":0.984},{"a":0.9875,"b":0.99375,"v":0.991},{"a":0.99375,"b":1.0,"v":0.997},{"a":1.0,"b":1.00625,"v":1.003},{"a":1.00625,"b":1.0125,"v":1.009},{"a":1.0125,"b":1.01875,"v":1.016},{"a":1.01875,"b":1.025,"v":1.022},{"a":1.025,"b":1.03125,"v":1.028},{"a":1.03125,"b":1.0375,"v":1.034},{"a":1.0375,"b":1.04375,"v":1.041},{"a":1.04375,"b":1.05,"v":1.047}],
"tips":[{"v":0.899,"x":435,"y":1429},{"v":0.899,"x":335,"y":1473},{"v":0.899,"x":435,"y":1518},{"v":1.051,"x":2442,"y":1429},{"v":1.051,"x":2544,"y":1473},{"v":1.051,"x":2442,"y":1518}],
"outline":[{"x":335,"y":1473},{"x":435,"y":1429},{"x":2442,"y":1429},{"x":2544,"y":1473},{"x":2442,"y":1518},{"x":435,"y":1518}]
},
"layer":[
{"data":{"name":"ecl"},"mark":{"type":"line","filled":true,"interpolate":"cardinal-closed","tension":0.4,"strokeWidth":0},"encoding":{"x":{"field":"x","type":"quantitative","axis":null,"scale":{"domain":[0,1568],"range":[0,680],"nice":false,"zero":false}},"y":{"field":"y","type":"quantitative","axis":null,"scale":{"domain":[0,1568],"range":[160,1080],"nice":false,"zero":false}},"order":{"value":null},"color":{"field":"v","type":"quantitative","legend":null,"scale":{"type":"threshold","domain":[0.9,0.90625,0.9125,0.91875,0.925,0.93125,0.9375,0.94375,0.95,0.95625,0.9625,0.96875,0.975,0.98125,0.9875,0.99375,1.0,1.00625,1.0125,1.01875,1.025,1.03125,1.0375,1.04375,1.05],"range":["#634a9e","#5554a4","#4272b2","#2f88bc","#459db0","#5cb7a7","#76c8a4","#96d5a4","#b2e0a2","#cbe99d","#e1f296","#eaf29e","#eff0a8","#f5eca5","#f9e295","#fedc86","#fdc473","#fdb063","#fb9a58","#f67e4b","#ef6544","#e45549","#d74050","#be2548","#a81241","#9e0142"]}}}},
{"data":{"name":"eclMask"},"mark":{"type":"line","filled":true,"color":"white","interpolate":"linear-closed","strokeWidth":0},"encoding":{"x":{"field":"x","type":"quantitative","axis":null,"scale":{"domain":[0,1568],"range":[0,680],"nice":false,"zero":false}},"y":{"field":"y","type":"quantitative","axis":null,"scale":{"domain":[0,1568],"range":[160,1080],"nice":false,"zero":false}},"order":{"value":null}}},
{"data":{"name":"eclDots"},"mark":{"type":"point","shape":"square","filled":true,"color":"#111","opacity":0.8,"size":32},"encoding":{"x":{"field":"x","type":"quantitative","axis":null,"scale":{"domain":[0,1568],"range":[0,680],"nice":false,"zero":false}},"y":{"field":"y","type":"quantitative","axis":null,"scale":{"domain":[0,1568],"range":[160,1080],"nice":false,"zero":false}}}},
{"data":{"name":"eclTicks"},"mark":{"type":"text","font":"Liberation Serif","fontSize":38,"align":"right","baseline":"alphabetic","color":"#222"},"encoding":{"text":{"field":"t"},"x":{"field":"x","type":"quantitative","axis":null,"scale":{"domain":[0,1568],"range":[0,680],"nice":false,"zero":false}},"y":{"field":"y","type":"quantitative","axis":null,"scale":{"domain":[0,1568],"range":[160,1080],"nice":false,"zero":false}}}},

{"data":{"name":"ft"},"mark":{"type":"line","filled":true,"interpolate":"cardinal-closed","tension":0.4,"strokeWidth":0},"encoding":{"x":{"field":"x","type":"quantitative","axis":null,"scale":{"domain":[0,1500],"range":[720,1220],"nice":false,"zero":false}},"y":{"field":"y","type":"quantitative","axis":null,"scale":{"domain":[0,1568],"range":[180,1140],"nice":false,"zero":false}},"order":{"value":null},"color":{"field":"v","type":"quantitative","legend":null,"scale":{"type":"threshold","domain":[0.906,0.912,0.918,0.925,0.931,0.937,0.943,0.95,0.956,0.962,0.986,0.993,1.0,1.006,1.012,1.019,1.025,1.031],"range":["#4f4f91","#3f669b","#2f7da0","#46919c","#5ba495","#74b095","#92bd90","#abc88c","#bfd08a","#c8d489","#d2ce92","#d9c787","#dfbe78","#dfaf68","#de9c58","#da8a4c","#d8733f","#d25f3a","#c54d41"]}}}},
{"data":{"name":"ftCap"},"mark":{"type":"line","filled":true,"interpolate":"cardinal-closed","tension":0.5,"strokeWidth":0},"encoding":{"x":{"field":"x","type":"quantitative","axis":null,"scale":{"domain":[0,1500],"range":[720,1220],"nice":false,"zero":false}},"y":{"field":"y","type":"quantitative","axis":null,"scale":{"domain":[0,1568],"range":[180,1140],"nice":false,"zero":false}},"order":{"value":null},"color":{"field":"v","type":"quantitative","legend":null,"scale":{"type":"threshold","domain":[0.9,0.92,0.94,0.96,0.975],"range":["#c3c6e1","#c3dde8","#dcefdf","#eef7dc","#f8fadf","#fdfbe2"]}}}},
{"data":{"name":"ftMask"},"mark":{"type":"line","filled":true,"color":"white","interpolate":"linear-closed","strokeWidth":0},"encoding":{"x":{"field":"x","type":"quantitative","axis":null,"scale":{"domain":[0,1500],"range":[720,1220],"nice":false,"zero":false}},"y":{"field":"y","type":"quantitative","axis":null,"scale":{"domain":[0,1568],"range":[180,1140],"nice":false,"zero":false}},"order":{"value":null}}},

{"data":{"name":"gr"},"mark":{"type":"line","filled":true,"interpolate":"cardinal-closed","tension":0.4,"strokeWidth":0},"encoding":{"x":{"field":"x","type":"quantitative","axis":null,"scale":{"domain":[0,1500],"range":[1270,1770],"nice":false,"zero":false}},"y":{"field":"y","type":"quantitative","axis":null,"scale":{"domain":[0,1568],"range":[180,1140],"nice":false,"zero":false}},"order":{"value":null},"color":{"field":"v","type":"quantitative","legend":null,"scale":{"type":"threshold","domain":[0.906,0.912,0.918,0.925,0.931,0.937,0.943,0.95,0.956,0.962,0.986,0.993,1.0,1.006,1.012,1.019,1.025,1.031],"range":["#4f4f91","#3f669b","#2f7da0","#46919c","#5ba495","#74b095","#92bd90","#abc88c","#bfd08a","#c8d489","#d2ce92","#d9c787","#dfbe78","#dfaf68","#de9c58","#da8a4c","#d8733f","#d25f3a","#c54d41"]}}}},
{"data":{"name":"grCap"},"mark":{"type":"line","filled":true,"interpolate":"cardinal-closed","tension":0.5,"strokeWidth":0},"encoding":{"x":{"field":"x","type":"quantitative","axis":null,"scale":{"domain":[0,1500],"range":[1270,1770],"nice":false,"zero":false}},"y":{"field":"y","type":"quantitative","axis":null,"scale":{"domain":[0,1568],"range":[180,1140],"nice":false,"zero":false}},"order":{"value":null},"color":{"field":"v","type":"quantitative","legend":null,"scale":{"type":"threshold","domain":[0.9,0.92,0.94,0.96,0.975],"range":["#c3c6e1","#c3dde8","#dcefdf","#eef7dc","#f8fadf","#fdfbe2"]}}}},
{"data":{"name":"grMask"},"mark":{"type":"line","filled":true,"color":"white","interpolate":"linear-closed","strokeWidth":0},"encoding":{"x":{"field":"x","type":"quantitative","axis":null,"scale":{"domain":[0,1500],"range":[1270,1770],"nice":false,"zero":false}},"y":{"field":"y","type":"quantitative","axis":null,"scale":{"domain":[0,1568],"range":[180,1140],"nice":false,"zero":false}},"order":{"value":null}}},

{"data":{"name":"p3"},"mark":{"type":"line","filled":true,"interpolate":"cardinal-closed","tension":0.4,"strokeWidth":0},"encoding":{"x":{"field":"x","type":"quantitative","axis":null,"scale":{"domain":[0,1568],"range":[1820,2800],"nice":false,"zero":false}},"y":{"field":"y","type":"quantitative","axis":null,"scale":{"domain":[0,1568],"range":[180,1140],"nice":false,"zero":false}},"order":{"value":null},"color":{"field":"v","type":"quantitative","legend":null,"scale":{"type":"threshold","domain":[0.906,0.912,0.918,0.925,0.931,0.937,0.943,0.95,0.956,0.962,0.986,0.993,1.0,1.006,1.012,1.019,1.025,1.031],"range":["#4f4f91","#3f669b","#2f7da0","#46919c","#5ba495","#74b095","#92bd90","#abc88c","#bfd08a","#c8d489","#d2ce92","#d9c787","#dfbe78","#dfaf68","#de9c58","#da8a4c","#d8733f","#d25f3a","#c54d41"]}}}},
{"data":{"name":"p3Cap"},"mark":{"type":"line","filled":true,"interpolate":"cardinal-closed","tension":0.5,"strokeWidth":0},"encoding":{"x":{"field":"x","type":"quantitative","axis":null,"scale":{"domain":[0,1568],"range":[1820,2800],"nice":false,"zero":false}},"y":{"field":"y","type":"quantitative","axis":null,"scale":{"domain":[0,1568],"range":[180,1140],"nice":false,"zero":false}},"order":{"value":null},"color":{"field":"v","type":"quantitative","legend":null,"scale":{"type":"threshold","domain":[0.9,0.92,0.94,0.96,0.975],"range":["#c3c6e1","#c3dde8","#dcefdf","#eef7dc","#f8fadf","#fdfbe2"]}}}},
{"data":{"name":"p3Mask"},"mark":{"type":"line","filled":true,"color":"white","interpolate":"linear-closed","strokeWidth":0},"encoding":{"x":{"field":"x","type":"quantitative","axis":null,"scale":{"domain":[0,1568],"range":[1820,2800],"nice":false,"zero":false}},"y":{"field":"y","type":"quantitative","axis":null,"scale":{"domain":[0,1568],"range":[180,1140],"nice":false,"zero":false}},"order":{"value":null}}},

{"data":{"name":"p4"},"mark":{"type":"line","filled":true,"interpolate":"cardinal-closed","tension":0.4,"strokeWidth":0},"encoding":{"x":{"field":"x","type":"quantitative","axis":null,"scale":{"domain":[0,1568],"range":[1820,2800],"nice":false,"zero":false}},"y":{"field":"y","type":"quantitative","axis":null,"scale":{"domain":[0,1568],"range":[180,1140],"nice":false,"zero":false}},"order":{"value":null},"color":{"field":"v","type":"quantitative","legend":null,"scale":{"type":"threshold","domain":[0.906,0.912,0.918,0.925,0.931,0.937,0.943,0.95,0.956,0.962,0.986,0.993,1.0,1.006,1.012,1.019,1.025,1.031],"range":["#4f4f91","#3f669b","#2f7da0","#46919c","#5ba495","#74b095","#92bd90","#abc88c","#bfd08a","#c8d489","#d2ce92","#d9c787","#dfbe78","#dfaf68","#de9c58","#da8a4c","#d8733f","#d25f3a","#c54d41"]}}}},
{"data":{"name":"p4Cap"},"mark":{"type":"line","filled":true,"interpolate":"cardinal-closed","tension":0.5,"strokeWidth":0},"encoding":{"x":{"field":"x","type":"quantitative","axis":null,"scale":{"domain":[0,1568],"range":[1820,2800],"nice":false,"zero":false}},"y":{"field":"y","type":"quantitative","axis":null,"scale":{"domain":[0,1568],"range":[180,1140],"nice":false,"zero":false}},"order":{"value":null},"color":{"field":"v","type":"quantitative","legend":null,"scale":{"type":"threshold","domain":[0.9,0.92,0.94,0.96,0.975],"range":["#c3c6e1","#c3dde8","#dcefdf","#eef7dc","#f8fadf","#fdfbe2"]}}}},
{"data":{"name":"p4Mask"},"mark":{"type":"line","filled":true,"color":"white","interpolate":"linear-closed","strokeWidth":0},"encoding":{"x":{"field":"x","type":"quantitative","axis":null,"scale":{"domain":[0,1568],"range":[1820,2800],"nice":false,"zero":false}},"y":{"field":"y","type":"quantitative","axis":null,"scale":{"domain":[0,1568],"range":[180,1140],"nice":false,"zero":false}},"order":{"value":null}}},

{"data":{"name":"tips"},"mark":{"type":"line","filled":true,"interpolate":"linear-closed","strokeWidth":0},"encoding":{"x":{"field":"x","type":"quantitative","axis":null,"scale":{"domain":[0,2805],"range":[0,2805],"nice":false,"zero":false}},"y":{"field":"y","type":"quantitative","axis":null,"scale":{"domain":[0,1719],"range":[0,1719],"nice":false,"zero":false}},"order":{"value":null},"color":{"field":"v","type":"quantitative","legend":null,"scale":{"type":"threshold","domain":[0.9,1.05],"range":["#634a9e","#ffffff","#9e0142"]}}}},
{"data":{"name":"bar"},"mark":{"type":"rect"},"encoding":{"x":{"field":"a","type":"quantitative","scale":{"domain":[0.9,1.05],"range":[435,2442],"nice":false,"zero":false},"axis":{"orient":"bottom","offset":-201,"values":[0.9,0.9375,0.975,1.0125,1.05],"format":".4f","grid":false,"domain":false,"ticks":true,"tickSize":20,"tickWidth":3,"tickColor":"#222","labelFont":"Liberation Serif","labelFontSize":58,"labelColor":"#333","labelPadding":10,"labelFlush":false,"labelOverlap":false,"title":null}},"x2":{"field":"b"},"y":{"datum":1431,"type":"quantitative","axis":null,"scale":{"domain":[0,1719],"range":[0,1719],"nice":false,"zero":false}},"y2":{"datum":1518},"color":{"field":"v","type":"quantitative","legend":null,"scale":{"type":"threshold","domain":[0.9,0.90625,0.9125,0.91875,0.925,0.93125,0.9375,0.94375,0.95,0.95625,0.9625,0.96875,0.975,0.98125,0.9875,0.99375,1.0,1.00625,1.0125,1.01875,1.025,1.03125,1.0375,1.04375,1.05],"range":["#634a9e","#5554a4","#4272b2","#2f88bc","#459db0","#5cb7a7","#76c8a4","#96d5a4","#b2e0a2","#cbe99d","#e1f296","#eaf29e","#eff0a8","#f5eca5","#f9e295","#fedc86","#fdc473","#fdb063","#fb9a58","#f67e4b","#ef6544","#e45549","#d74050","#be2548","#a81241","#9e0142"]}}}},
{"data":{"name":"outline"},"mark":{"type":"line","interpolate":"linear-closed","color":"#111","strokeWidth":5},"encoding":{"x":{"field":"x","type":"quantitative","axis":null,"scale":{"domain":[0,2805],"range":[0,2805],"nice":false,"zero":false}},"y":{"field":"y","type":"quantitative","axis":null,"scale":{"domain":[0,1719],"range":[0,1719],"nice":false,"zero":false}},"order":{"value":null}}},

{"data":{"values":[{"x":685,"y":0,"y2":1318}]},"mark":{"type":"rule","color":"black","strokeWidth":6},"encoding":{"x":{"field":"x","type":"quantitative","axis":null,"scale":{"domain":[0,2805],"range":[0,2805],"nice":false,"zero":false}},"y":{"field":"y","type":"quantitative","axis":null,"scale":{"domain":[0,1719],"range":[0,1719],"nice":false,"zero":false}},"y2":{"field":"y2"}}},
{"data":{"values":[{"x":1415,"x2":1469,"y":1612}]},"mark":{"type":"rule","color":"#333","strokeWidth":4},"encoding":{"x":{"field":"x","type":"quantitative","axis":null,"scale":{"domain":[0,2805],"range":[0,2805],"nice":false,"zero":false}},"x2":{"field":"x2"},"y":{"field":"y","type":"quantitative","axis":null,"scale":{"domain":[0,1719],"range":[0,1719],"nice":false,"zero":false}}}},
{"data":{"values":[{"t":"ECL","x":407,"y":90},{"t":"TRAF","x":1752,"y":90}]},"mark":{"type":"text","font":"Liberation Sans","fontSize":72,"align":"center","baseline":"alphabetic","color":"black"},"encoding":{"text":{"field":"t"},"x":{"field":"x","type":"quantitative","axis":null,"scale":{"domain":[0,2805],"range":[0,2805],"nice":false,"zero":false}},"y":{"field":"y","type":"quantitative","axis":null,"scale":{"domain":[0,1719],"range":[0,1719],"nice":false,"zero":false}}}},
{"data":{"values":[{"t":"FT","x":944,"y":1303},{"t":"FT","x":2014,"y":1258}]},"mark":{"type":"text","font":"Liberation Sans","fontSize":64,"align":"center","baseline":"alphabetic","color":"black"},"encoding":{"text":{"field":"t"},"x":{"field":"x","type":"quantitative","axis":null,"scale":{"domain":[0,2805],"range":[0,2805],"nice":false,"zero":false}},"y":{"field":"y","type":"quantitative","axis":null,"scale":{"domain":[0,1719],"range":[0,1719],"nice":false,"zero":false}}}},
{"data":{"values":[{"t":"HelCorr","x":2022,"y":1349},{"t":"HelCorr","x":2564,"y":1340}]},"mark":{"type":"text","font":"Liberation Sans","fontSize":70,"align":"center","baseline":"alphabetic","color":"black"},"encoding":{"text":{"field":"t"},"x":{"field":"x","type":"quantitative","axis":null,"scale":{"domain":[0,2805],"range":[0,2805],"nice":false,"zero":false}},"y":{"field":"y","type":"quantitative","axis":null,"scale":{"domain":[0,1719],"range":[0,1719],"nice":false,"zero":false}}}},
{"data":{"values":[{"t":"γ − Re","x":1347,"y":1296},{"t":"γ − Re","x":2438,"y":1253}]},"mark":{"type":"text","font":"Liberation Serif","fontStyle":"italic","fontSize":78,"align":"left","baseline":"alphabetic","color":"black"},"encoding":{"text":{"field":"t"},"x":{"field":"x","type":"quantitative","axis":null,"scale":{"domain":[0,2805],"range":[0,2805],"nice":false,"zero":false}},"y":{"field":"y","type":"quantitative","axis":null,"scale":{"domain":[0,1719],"range":[0,1719],"nice":false,"zero":false}}}},
{"data":{"values":[{"t":"θ","x":1558,"y":1310},{"t":"θ","x":2649,"y":1262}]},"mark":{"type":"text","font":"Liberation Serif","fontStyle":"italic","fontSize":54,"align":"left","baseline":"alphabetic","color":"black"},"encoding":{"text":{"field":"t"},"x":{"field":"x","type":"quantitative","axis":null,"scale":{"domain":[0,2805],"range":[0,2805],"nice":false,"zero":false}},"y":{"field":"y","type":"quantitative","axis":null,"scale":{"domain":[0,1719],"range":[0,1719],"nice":false,"zero":false}}}},
{"data":{"values":[{"t":"Exp.","x":406,"y":228}]},"mark":{"type":"text","font":"Liberation Serif","fontSize":60,"align":"center","baseline":"alphabetic","color":"#333"},"encoding":{"text":{"field":"t"},"x":{"field":"x","type":"quantitative","axis":null,"scale":{"domain":[0,2805],"range":[0,2805],"nice":false,"zero":false}},"y":{"field":"y","type":"quantitative","axis":null,"scale":{"domain":[0,1719],"range":[0,1719],"nice":false,"zero":false}}}},
{"data":{"values":[{"t":"channel height [-]","x":58,"y":658}]},"mark":{"type":"text","font":"Liberation Serif","fontSize":51,"angle":270,"align":"center","baseline":"alphabetic","color":"#222"},"encoding":{"text":{"field":"t"},"x":{"field":"x","type":"quantitative","axis":null,"scale":{"domain":[0,2805],"range":[0,2805],"nice":false,"zero":false}},"y":{"field":"y","type":"quantitative","axis":null,"scale":{"domain":[0,1719],"range":[0,1719],"nice":false,"zero":false}}}},
{"data":{"values":[{"t":"Π","x":1131,"y":1670},{"t":"/","x":1372,"y":1672},{"t":"Π","x":1415,"y":1670},{"t":"[-]","x":1691,"y":1672}]},"mark":{"type":"text","font":"Liberation Serif","fontSize":66,"align":"left","baseline":"alphabetic","color":"#333"},"encoding":{"text":{"field":"t"},"x":{"field":"x","type":"quantitative","axis":null,"scale":{"domain":[0,2805],"range":[0,2805],"nice":false,"zero":false}},"y":{"field":"y","type":"quantitative","axis":null,"scale":{"domain":[0,1719],"range":[0,1719],"nice":false,"zero":false}}}},
{"data":{"values":[{"t":"t,stage","x":1191,"y":1682},{"t":"t,stage","x":1473,"y":1682}]},"mark":{"type":"text","font":"Liberation Serif","fontStyle":"italic","fontSize":62,"align":"left","baseline":"alphabetic","color":"#333"},"encoding":{"text":{"field":"t"},"x":{"field":"x","type":"quantitative","axis":null,"scale":{"domain":[0,2805],"range":[0,2805],"nice":false,"zero":false}},"y":{"field":"y","type":"quantitative","axis":null,"scale":{"domain":[0,1719],"range":[0,1719],"nice":false,"zero":false}}}}
]}
